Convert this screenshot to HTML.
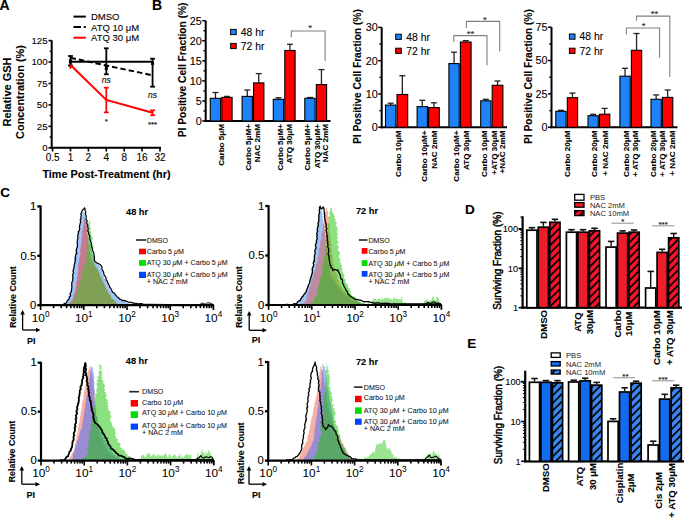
<!DOCTYPE html>
<html><head><meta charset="utf-8"><style>
html,body{margin:0;padding:0;background:#fff;}
body{width:685px;height:518px;overflow:hidden;}
svg{display:block;font-family:"Liberation Sans", sans-serif;}
text{stroke:currentColor;stroke-width:0.1px;}
</style></head><body>
<svg width="685" height="518" viewBox="0 0 685 518">
<defs>
<pattern id="hr" patternUnits="userSpaceOnUse" width="5.4" height="5.4" patternTransform="rotate(45)"><rect width="5.4" height="5.4" fill="#f5142a"/><rect x="0" y="0" width="1.7" height="5.4" fill="#000"/></pattern>
<pattern id="hb" patternUnits="userSpaceOnUse" width="5.4" height="5.4" patternTransform="rotate(45)"><rect width="5.4" height="5.4" fill="#3a86ee"/><rect x="0" y="0" width="1.7" height="5.4" fill="#000"/></pattern>
</defs>
<rect width="685" height="518" fill="#fff"/>
<text x="-0.5" y="9.8" font-size="14" text-anchor="start" fill="#000" font-weight="bold">A</text>
<text x="152" y="9.9" font-size="14" text-anchor="start" fill="#000" font-weight="bold">B</text>
<text x="0.3" y="196.8" font-size="13.5" text-anchor="start" fill="#000" font-weight="bold">C</text>
<text x="465" y="213.8" font-size="13.5" text-anchor="start" fill="#000" font-weight="bold">D</text>
<text x="467.3" y="347.6" font-size="13.5" text-anchor="start" fill="#000" font-weight="bold">E</text>
<line x1="73.5" y1="16.6" x2="85.8" y2="16.6" stroke="#000" stroke-width="2"/>
<path d="M73.5,27.1 H81 M83.8,27.1 H85.8" fill="none" stroke="#000" stroke-width="2"/>
<line x1="73.5" y1="37.7" x2="85.8" y2="37.7" stroke="#f00" stroke-width="2"/>
<text x="91" y="20.1" font-size="9.5" text-anchor="start" fill="#000">DMSO</text>
<text x="91" y="30.6" font-size="9.5" text-anchor="start" fill="#000">ATQ 10 μM</text>
<text x="91" y="41.2" font-size="9.5" text-anchor="start" fill="#000">ATQ 30 μM</text>
<line x1="51.7" y1="40.3" x2="51.7" y2="149" stroke="#000" stroke-width="2"/>
<line x1="48.5" y1="147.8" x2="51.7" y2="147.8" stroke="#000" stroke-width="1.6"/>
<text x="47.6" y="151.2" font-size="9.7" text-anchor="end" fill="#000">0</text>
<line x1="48.5" y1="126.36" x2="51.7" y2="126.36" stroke="#000" stroke-width="1.6"/>
<text x="47.6" y="129.76" font-size="9.7" text-anchor="end" fill="#000">25</text>
<line x1="48.5" y1="104.92" x2="51.7" y2="104.92" stroke="#000" stroke-width="1.6"/>
<text x="47.6" y="108.32" font-size="9.7" text-anchor="end" fill="#000">50</text>
<line x1="48.5" y1="83.48" x2="51.7" y2="83.48" stroke="#000" stroke-width="1.6"/>
<text x="47.6" y="86.88" font-size="9.7" text-anchor="end" fill="#000">75</text>
<line x1="48.5" y1="62.04" x2="51.7" y2="62.04" stroke="#000" stroke-width="1.6"/>
<text x="47.6" y="65.44" font-size="9.7" text-anchor="end" fill="#000">100</text>
<line x1="48.5" y1="40.6" x2="51.7" y2="40.6" stroke="#000" stroke-width="1.6"/>
<text x="47.6" y="44" font-size="9.7" text-anchor="end" fill="#000">125</text>
<line x1="49.7" y1="137.08" x2="51.7" y2="137.08" stroke="#000" stroke-width="1.5"/>
<line x1="49.7" y1="115.64" x2="51.7" y2="115.64" stroke="#000" stroke-width="1.5"/>
<line x1="49.7" y1="94.2" x2="51.7" y2="94.2" stroke="#000" stroke-width="1.5"/>
<line x1="49.7" y1="72.76" x2="51.7" y2="72.76" stroke="#000" stroke-width="1.5"/>
<line x1="49.7" y1="51.32" x2="51.7" y2="51.32" stroke="#000" stroke-width="1.5"/>
<line x1="50.7" y1="147.8" x2="161" y2="147.8" stroke="#000" stroke-width="2"/>
<line x1="52.6" y1="147.8" x2="52.6" y2="151.5" stroke="#000" stroke-width="1.6"/>
<text x="52.6" y="160.8" font-size="10" text-anchor="middle" fill="#000">0.5</text>
<line x1="70.5" y1="147.8" x2="70.5" y2="151.5" stroke="#000" stroke-width="1.6"/>
<text x="70.5" y="160.8" font-size="10" text-anchor="middle" fill="#000">1</text>
<line x1="88.4" y1="147.8" x2="88.4" y2="151.5" stroke="#000" stroke-width="1.6"/>
<text x="88.4" y="160.8" font-size="10" text-anchor="middle" fill="#000">2</text>
<line x1="106.3" y1="147.8" x2="106.3" y2="151.5" stroke="#000" stroke-width="1.6"/>
<text x="106.3" y="160.8" font-size="10" text-anchor="middle" fill="#000">4</text>
<line x1="124.2" y1="147.8" x2="124.2" y2="151.5" stroke="#000" stroke-width="1.6"/>
<text x="124.2" y="160.8" font-size="10" text-anchor="middle" fill="#000">8</text>
<line x1="142.1" y1="147.8" x2="142.1" y2="151.5" stroke="#000" stroke-width="1.6"/>
<text x="142.1" y="160.8" font-size="10" text-anchor="middle" fill="#000">16</text>
<line x1="160" y1="147.8" x2="160" y2="151.5" stroke="#000" stroke-width="1.6"/>
<text x="160" y="160.8" font-size="10" text-anchor="middle" fill="#000">32</text>
<text x="106.5" y="178.4" font-size="10.85" text-anchor="middle" fill="#000" font-weight="bold">Time Post-Treatment (hr)</text>
<text transform="translate(10.86,92) rotate(-90)" font-size="11" text-anchor="middle" fill="#000" font-weight="bold">Relative GSH</text>
<text transform="translate(24.22,92) rotate(-90)" font-size="10.9" text-anchor="middle" fill="#000" font-weight="bold">Concentration (%)</text>
<line x1="70.5" y1="61.7" x2="152.57" y2="61.7" stroke="#000" stroke-width="2"/>
<line x1="70.5" y1="56" x2="70.5" y2="65.5" stroke="#000" stroke-width="1.8"/>
<line x1="68.1" y1="56" x2="72.9" y2="56" stroke="#000" stroke-width="1.8"/>
<line x1="68.1" y1="65.5" x2="72.9" y2="65.5" stroke="#000" stroke-width="1.8"/>
<line x1="106.3" y1="48.3" x2="106.3" y2="74.3" stroke="#000" stroke-width="1.8"/>
<line x1="103.9" y1="48.3" x2="108.7" y2="48.3" stroke="#000" stroke-width="1.8"/>
<line x1="103.9" y1="74.3" x2="108.7" y2="74.3" stroke="#000" stroke-width="1.8"/>
<line x1="152.57" y1="58.7" x2="152.57" y2="86.7" stroke="#000" stroke-width="1.8"/>
<line x1="150.17" y1="58.7" x2="154.97" y2="58.7" stroke="#000" stroke-width="1.8"/>
<line x1="150.17" y1="86.7" x2="154.97" y2="86.7" stroke="#000" stroke-width="1.8"/>
<rect x="151.07" y="61.5" width="3" height="3.5" fill="#000" stroke="none" stroke-width="0"/>
<path d="M70.5,57.8 L106.3,65.5 L152.57,75.3" fill="none" stroke="#000" stroke-width="2" stroke-dasharray="5.5 3"/>
<path d="M70.5,65 L106.3,99.9 L152.57,112.8" fill="none" stroke="#f00" stroke-width="2"/>
<line x1="106.3" y1="87.7" x2="106.3" y2="112.4" stroke="#f00" stroke-width="1.7"/>
<line x1="103.9" y1="87.7" x2="108.7" y2="87.7" stroke="#f00" stroke-width="1.7"/>
<line x1="103.9" y1="112.4" x2="108.7" y2="112.4" stroke="#f00" stroke-width="1.7"/>
<line x1="152.57" y1="110.3" x2="152.57" y2="115.3" stroke="#f00" stroke-width="1.7"/>
<line x1="150.17" y1="110.3" x2="154.97" y2="110.3" stroke="#f00" stroke-width="1.7"/>
<line x1="150.17" y1="115.3" x2="154.97" y2="115.3" stroke="#f00" stroke-width="1.7"/>
<path d="M68.6,66.3 L72.4,66.3 L70.5,69.6 Z" fill="#f00" stroke="none" stroke-width="1"/>
<rect x="68.9" y="59.5" width="3.2" height="4" fill="#000" stroke="none" stroke-width="0"/>
<rect x="104.8" y="66" width="3" height="4" fill="#000" stroke="none" stroke-width="0"/>
<text x="106.3" y="83.2" font-size="8.5" text-anchor="middle" fill="#000" font-style="italic">ns</text>
<text x="152.57" y="98" font-size="8.5" text-anchor="middle" fill="#000" font-style="italic">ns</text>
<text x="106.3" y="123.6" font-size="8" text-anchor="middle" fill="#333">*</text>
<text x="152.57" y="126.8" font-size="8" text-anchor="middle" fill="#000">***</text>
<line x1="205.7" y1="20.7" x2="205.7" y2="122" stroke="#000" stroke-width="2"/>
<line x1="204.7" y1="121" x2="330.5" y2="121" stroke="#000" stroke-width="2"/>
<line x1="202.2" y1="121" x2="205.7" y2="121" stroke="#000" stroke-width="1.5"/>
<text x="201.7" y="124.9" font-size="10.8" text-anchor="end" fill="#000">0</text>
<line x1="202.2" y1="100.94" x2="205.7" y2="100.94" stroke="#000" stroke-width="1.5"/>
<text x="201.7" y="104.84" font-size="10.8" text-anchor="end" fill="#000">5</text>
<line x1="202.2" y1="80.88" x2="205.7" y2="80.88" stroke="#000" stroke-width="1.5"/>
<text x="201.7" y="84.78" font-size="10.8" text-anchor="end" fill="#000">10</text>
<line x1="202.2" y1="60.82" x2="205.7" y2="60.82" stroke="#000" stroke-width="1.5"/>
<text x="201.7" y="64.72" font-size="10.8" text-anchor="end" fill="#000">15</text>
<line x1="202.2" y1="40.76" x2="205.7" y2="40.76" stroke="#000" stroke-width="1.5"/>
<text x="201.7" y="44.66" font-size="10.8" text-anchor="end" fill="#000">20</text>
<line x1="202.2" y1="20.7" x2="205.7" y2="20.7" stroke="#000" stroke-width="1.5"/>
<text x="201.7" y="24.6" font-size="10.8" text-anchor="end" fill="#000">25</text>
<line x1="203.5" y1="110.97" x2="205.7" y2="110.97" stroke="#000" stroke-width="1.5"/>
<line x1="203.5" y1="90.91" x2="205.7" y2="90.91" stroke="#000" stroke-width="1.5"/>
<line x1="203.5" y1="70.85" x2="205.7" y2="70.85" stroke="#000" stroke-width="1.5"/>
<line x1="203.5" y1="50.79" x2="205.7" y2="50.79" stroke="#000" stroke-width="1.5"/>
<line x1="203.5" y1="30.73" x2="205.7" y2="30.73" stroke="#000" stroke-width="1.5"/>
<line x1="215.45" y1="98.3" x2="215.45" y2="92.5" stroke="#222" stroke-width="1.3"/>
<line x1="212.45" y1="92.5" x2="218.45" y2="92.5" stroke="#222" stroke-width="1.3"/>
<rect x="210.3" y="98.3" width="10.3" height="22.7" fill="#1f82f8" stroke="#000" stroke-width="1.1"/>
<line x1="226.95" y1="97.4" x2="226.95" y2="96.4" stroke="#222" stroke-width="1.3"/>
<line x1="223.95" y1="96.4" x2="229.95" y2="96.4" stroke="#222" stroke-width="1.3"/>
<rect x="221.8" y="97.4" width="10.3" height="23.6" fill="#ff0000" stroke="#000" stroke-width="1.1"/>
<line x1="247.25" y1="96.4" x2="247.25" y2="90" stroke="#222" stroke-width="1.3"/>
<line x1="244.25" y1="90" x2="250.25" y2="90" stroke="#222" stroke-width="1.3"/>
<rect x="242.1" y="96.4" width="10.3" height="24.6" fill="#1f82f8" stroke="#000" stroke-width="1.1"/>
<line x1="258.75" y1="82.9" x2="258.75" y2="73.6" stroke="#222" stroke-width="1.3"/>
<line x1="255.75" y1="73.6" x2="261.75" y2="73.6" stroke="#222" stroke-width="1.3"/>
<rect x="253.6" y="82.9" width="10.3" height="38.1" fill="#ff0000" stroke="#000" stroke-width="1.1"/>
<line x1="278.45" y1="99.3" x2="278.45" y2="97.8" stroke="#222" stroke-width="1.3"/>
<line x1="275.45" y1="97.8" x2="281.45" y2="97.8" stroke="#222" stroke-width="1.3"/>
<rect x="273.3" y="99.3" width="10.3" height="21.7" fill="#1f82f8" stroke="#000" stroke-width="1.1"/>
<line x1="289.95" y1="50.5" x2="289.95" y2="44.3" stroke="#222" stroke-width="1.3"/>
<line x1="286.95" y1="44.3" x2="292.95" y2="44.3" stroke="#222" stroke-width="1.3"/>
<rect x="284.8" y="50.5" width="10.3" height="70.5" fill="#ff0000" stroke="#000" stroke-width="1.1"/>
<line x1="309.95" y1="98.3" x2="309.95" y2="97.5" stroke="#222" stroke-width="1.3"/>
<line x1="306.95" y1="97.5" x2="312.95" y2="97.5" stroke="#222" stroke-width="1.3"/>
<rect x="304.8" y="98.3" width="10.3" height="22.7" fill="#1f82f8" stroke="#000" stroke-width="1.1"/>
<line x1="321.45" y1="84.6" x2="321.45" y2="69.6" stroke="#222" stroke-width="1.3"/>
<line x1="318.45" y1="69.6" x2="324.45" y2="69.6" stroke="#222" stroke-width="1.3"/>
<rect x="316.3" y="84.6" width="10.3" height="36.4" fill="#ff0000" stroke="#000" stroke-width="1.1"/>
<rect x="230.6" y="29.4" width="5.6" height="5.2" fill="#1f82f8" stroke="#000" stroke-width="1"/>
<rect x="230.6" y="43.4" width="5.6" height="5.2" fill="#ff0000" stroke="#000" stroke-width="1"/>
<text x="240.7" y="35.8" font-size="10.4" text-anchor="start" fill="#000">48 hr</text>
<text x="240.7" y="49.8" font-size="10.4" text-anchor="start" fill="#000">72 hr</text>
<text transform="translate(224.32,124) rotate(-90)" font-size="8.1" text-anchor="end" fill="#000" font-weight="bold">Carbo 5μM</text>
<text transform="translate(251.32,124) rotate(-90)" font-size="8.1" text-anchor="end" fill="#000" font-weight="bold">Carbo 5μM+</text>
<text transform="translate(259.92,124) rotate(-90)" font-size="8.1" text-anchor="end" fill="#000" font-weight="bold">NAC 2mM</text>
<text transform="translate(282.92,124) rotate(-90)" font-size="8.1" text-anchor="end" fill="#000" font-weight="bold">Carbo 5μM+</text>
<text transform="translate(291.82,124) rotate(-90)" font-size="8.1" text-anchor="end" fill="#000" font-weight="bold">ATQ 30μM</text>
<text transform="translate(310.12,124) rotate(-90)" font-size="8.1" text-anchor="end" fill="#000" font-weight="bold">Carbo 5μM+</text>
<text transform="translate(319.82,124) rotate(-90)" font-size="8.1" text-anchor="end" fill="#000" font-weight="bold">ATQ 30μM+</text>
<text transform="translate(328.42,124) rotate(-90)" font-size="8.1" text-anchor="end" fill="#000" font-weight="bold">NAC 2mM</text>
<path d="M291.3,37.3 V31 H325.1 V61" fill="none" stroke="#808080" stroke-width="1.1"/>
<text x="310" y="30.5" font-size="9.5" text-anchor="middle" fill="#333">*</text>
<text transform="translate(185.67,69.9) rotate(-90)" font-size="10.2" text-anchor="middle" fill="#000" font-weight="bold">PI Positive Cell Fraction (%)</text>
<line x1="381.7" y1="27.4" x2="381.7" y2="128.3" stroke="#000" stroke-width="2"/>
<line x1="380.7" y1="127.3" x2="507" y2="127.3" stroke="#000" stroke-width="2"/>
<line x1="378.2" y1="127.3" x2="381.7" y2="127.3" stroke="#000" stroke-width="1.5"/>
<text x="377.7" y="131.2" font-size="10.8" text-anchor="end" fill="#000">0</text>
<line x1="378.2" y1="94" x2="381.7" y2="94" stroke="#000" stroke-width="1.5"/>
<text x="377.7" y="97.9" font-size="10.8" text-anchor="end" fill="#000">10</text>
<line x1="378.2" y1="60.7" x2="381.7" y2="60.7" stroke="#000" stroke-width="1.5"/>
<text x="377.7" y="64.6" font-size="10.8" text-anchor="end" fill="#000">20</text>
<line x1="378.2" y1="27.4" x2="381.7" y2="27.4" stroke="#000" stroke-width="1.5"/>
<text x="377.7" y="31.3" font-size="10.8" text-anchor="end" fill="#000">30</text>
<line x1="379.5" y1="110.65" x2="381.7" y2="110.65" stroke="#000" stroke-width="1.5"/>
<line x1="379.5" y1="77.35" x2="381.7" y2="77.35" stroke="#000" stroke-width="1.5"/>
<line x1="379.5" y1="44.05" x2="381.7" y2="44.05" stroke="#000" stroke-width="1.5"/>
<line x1="390.65" y1="105.1" x2="390.65" y2="103.2" stroke="#222" stroke-width="1.3"/>
<line x1="387.65" y1="103.2" x2="393.65" y2="103.2" stroke="#222" stroke-width="1.3"/>
<rect x="385.5" y="105.1" width="10.3" height="22.2" fill="#1f82f8" stroke="#000" stroke-width="1.1"/>
<line x1="402.35" y1="94.5" x2="402.35" y2="75.7" stroke="#222" stroke-width="1.3"/>
<line x1="399.35" y1="75.7" x2="405.35" y2="75.7" stroke="#222" stroke-width="1.3"/>
<rect x="397" y="94.5" width="10.7" height="32.8" fill="#ff0000" stroke="#000" stroke-width="1.1"/>
<line x1="422.25" y1="106.6" x2="422.25" y2="100.3" stroke="#222" stroke-width="1.3"/>
<line x1="419.25" y1="100.3" x2="425.25" y2="100.3" stroke="#222" stroke-width="1.3"/>
<rect x="417.1" y="106.6" width="10.3" height="20.7" fill="#1f82f8" stroke="#000" stroke-width="1.1"/>
<line x1="433.95" y1="107.6" x2="433.95" y2="102.8" stroke="#222" stroke-width="1.3"/>
<line x1="430.95" y1="102.8" x2="436.95" y2="102.8" stroke="#222" stroke-width="1.3"/>
<rect x="428.6" y="107.6" width="10.7" height="19.7" fill="#ff0000" stroke="#000" stroke-width="1.1"/>
<line x1="454.05" y1="63.6" x2="454.05" y2="52.2" stroke="#222" stroke-width="1.3"/>
<line x1="451.05" y1="52.2" x2="457.05" y2="52.2" stroke="#222" stroke-width="1.3"/>
<rect x="448.9" y="63.6" width="10.3" height="63.7" fill="#1f82f8" stroke="#000" stroke-width="1.1"/>
<line x1="465.75" y1="42" x2="465.75" y2="40.6" stroke="#222" stroke-width="1.3"/>
<line x1="462.75" y1="40.6" x2="468.75" y2="40.6" stroke="#222" stroke-width="1.3"/>
<rect x="460.4" y="42" width="10.7" height="85.3" fill="#ff0000" stroke="#000" stroke-width="1.1"/>
<line x1="485.85" y1="100.8" x2="485.85" y2="99.3" stroke="#222" stroke-width="1.3"/>
<line x1="482.85" y1="99.3" x2="488.85" y2="99.3" stroke="#222" stroke-width="1.3"/>
<rect x="480.7" y="100.8" width="10.3" height="26.5" fill="#1f82f8" stroke="#000" stroke-width="1.1"/>
<line x1="497.55" y1="85.3" x2="497.55" y2="81" stroke="#222" stroke-width="1.3"/>
<line x1="494.55" y1="81" x2="500.55" y2="81" stroke="#222" stroke-width="1.3"/>
<rect x="492.2" y="85.3" width="10.7" height="42" fill="#ff0000" stroke="#000" stroke-width="1.1"/>
<rect x="395.7" y="34.2" width="5.6" height="5.2" fill="#1f82f8" stroke="#000" stroke-width="1"/>
<rect x="395.7" y="48.2" width="5.6" height="5.2" fill="#ff0000" stroke="#000" stroke-width="1"/>
<text x="406.2" y="40.6" font-size="10.4" text-anchor="start" fill="#000">48 hr</text>
<text x="406.2" y="54.6" font-size="10.4" text-anchor="start" fill="#000">72 hr</text>
<text transform="translate(400.82,130.6) rotate(-90)" font-size="8.1" text-anchor="end" fill="#000" font-weight="bold">Carbo 10μM</text>
<text transform="translate(426.92,130.6) rotate(-90)" font-size="8.1" text-anchor="end" fill="#000" font-weight="bold">Carbo 10μM+</text>
<text transform="translate(436.52,130.6) rotate(-90)" font-size="8.1" text-anchor="end" fill="#000" font-weight="bold">NAC 2mM</text>
<text transform="translate(458.62,130.6) rotate(-90)" font-size="8.1" text-anchor="end" fill="#000" font-weight="bold">Carbo 10μM+</text>
<text transform="translate(469.22,130.6) rotate(-90)" font-size="8.1" text-anchor="end" fill="#000" font-weight="bold">ATQ 30μM</text>
<text transform="translate(486.62,130.6) rotate(-90)" font-size="8.1" text-anchor="end" fill="#000" font-weight="bold">Carbo 10μM</text>
<text transform="translate(497.22,130.6) rotate(-90)" font-size="8.1" text-anchor="end" fill="#000" font-weight="bold">+ATQ 30μM</text>
<text transform="translate(504.92,130.6) rotate(-90)" font-size="8.1" text-anchor="end" fill="#000" font-weight="bold">+NAC 2mM</text>
<path d="M453.8,42 V35.6 H487 V65.2" fill="none" stroke="#808080" stroke-width="1.1"/>
<text x="470.5" y="37.2" font-size="9.5" text-anchor="middle" fill="#333">**</text>
<path d="M466.4,28 V21.4 H499.7 V51.2" fill="none" stroke="#808080" stroke-width="1.1"/>
<text x="484.8" y="23.2" font-size="9.5" text-anchor="middle" fill="#333">*</text>
<text transform="translate(361.17,76.6) rotate(-90)" font-size="10.2" text-anchor="middle" fill="#000" font-weight="bold">PI Positive Cell Fraction (%)</text>
<line x1="551.5" y1="27.2" x2="551.5" y2="128.3" stroke="#000" stroke-width="2"/>
<line x1="550.5" y1="127.3" x2="677.5" y2="127.3" stroke="#000" stroke-width="2"/>
<line x1="548" y1="127.3" x2="551.5" y2="127.3" stroke="#000" stroke-width="1.5"/>
<text x="547.5" y="131.2" font-size="10.8" text-anchor="end" fill="#000">0</text>
<line x1="548" y1="93.93" x2="551.5" y2="93.93" stroke="#000" stroke-width="1.5"/>
<text x="547.5" y="97.83" font-size="10.8" text-anchor="end" fill="#000">25</text>
<line x1="548" y1="60.57" x2="551.5" y2="60.57" stroke="#000" stroke-width="1.5"/>
<text x="547.5" y="64.47" font-size="10.8" text-anchor="end" fill="#000">50</text>
<line x1="548" y1="27.2" x2="551.5" y2="27.2" stroke="#000" stroke-width="1.5"/>
<text x="547.5" y="31.1" font-size="10.8" text-anchor="end" fill="#000">75</text>
<line x1="549.3" y1="110.62" x2="551.5" y2="110.62" stroke="#000" stroke-width="1.5"/>
<line x1="549.3" y1="77.25" x2="551.5" y2="77.25" stroke="#000" stroke-width="1.5"/>
<line x1="549.3" y1="43.88" x2="551.5" y2="43.88" stroke="#000" stroke-width="1.5"/>
<line x1="560.95" y1="111.3" x2="560.95" y2="110.3" stroke="#222" stroke-width="1.3"/>
<line x1="557.95" y1="110.3" x2="563.95" y2="110.3" stroke="#222" stroke-width="1.3"/>
<rect x="555.8" y="111.3" width="10.3" height="16" fill="#1f82f8" stroke="#000" stroke-width="1.1"/>
<line x1="572.45" y1="97.7" x2="572.45" y2="93.1" stroke="#222" stroke-width="1.3"/>
<line x1="569.45" y1="93.1" x2="575.45" y2="93.1" stroke="#222" stroke-width="1.3"/>
<rect x="567.3" y="97.7" width="10.3" height="29.6" fill="#ff0000" stroke="#000" stroke-width="1.1"/>
<line x1="593.15" y1="115.7" x2="593.15" y2="114.3" stroke="#222" stroke-width="1.3"/>
<line x1="590.15" y1="114.3" x2="596.15" y2="114.3" stroke="#222" stroke-width="1.3"/>
<rect x="588" y="115.7" width="10.3" height="11.6" fill="#1f82f8" stroke="#000" stroke-width="1.1"/>
<line x1="604.65" y1="114.2" x2="604.65" y2="108.4" stroke="#222" stroke-width="1.3"/>
<line x1="601.65" y1="108.4" x2="607.65" y2="108.4" stroke="#222" stroke-width="1.3"/>
<rect x="599.5" y="114.2" width="10.3" height="13.1" fill="#ff0000" stroke="#000" stroke-width="1.1"/>
<line x1="625.05" y1="76.2" x2="625.05" y2="68.3" stroke="#222" stroke-width="1.3"/>
<line x1="622.05" y1="68.3" x2="628.05" y2="68.3" stroke="#222" stroke-width="1.3"/>
<rect x="619.9" y="76.2" width="10.3" height="51.1" fill="#1f82f8" stroke="#000" stroke-width="1.1"/>
<line x1="636.55" y1="50.3" x2="636.55" y2="33.5" stroke="#222" stroke-width="1.3"/>
<line x1="633.55" y1="33.5" x2="639.55" y2="33.5" stroke="#222" stroke-width="1.3"/>
<rect x="631.4" y="50.3" width="10.3" height="77" fill="#ff0000" stroke="#000" stroke-width="1.1"/>
<line x1="656.15" y1="99.3" x2="656.15" y2="94.9" stroke="#222" stroke-width="1.3"/>
<line x1="653.15" y1="94.9" x2="659.15" y2="94.9" stroke="#222" stroke-width="1.3"/>
<rect x="651" y="99.3" width="10.3" height="28" fill="#1f82f8" stroke="#000" stroke-width="1.1"/>
<line x1="667.65" y1="97.4" x2="667.65" y2="90" stroke="#222" stroke-width="1.3"/>
<line x1="664.65" y1="90" x2="670.65" y2="90" stroke="#222" stroke-width="1.3"/>
<rect x="662.5" y="97.4" width="10.3" height="29.9" fill="#ff0000" stroke="#000" stroke-width="1.1"/>
<rect x="569.4" y="34" width="5.6" height="5.2" fill="#1f82f8" stroke="#000" stroke-width="1"/>
<rect x="569.4" y="48.2" width="5.6" height="5.2" fill="#ff0000" stroke="#000" stroke-width="1"/>
<text x="579.6" y="40.4" font-size="10.4" text-anchor="start" fill="#000">48 hr</text>
<text x="579.6" y="54.6" font-size="10.4" text-anchor="start" fill="#000">72 hr</text>
<text transform="translate(570.22,130.6) rotate(-90)" font-size="8.1" text-anchor="end" fill="#000" font-weight="bold">Carbo 20μM</text>
<text transform="translate(597.22,130.6) rotate(-90)" font-size="8.1" text-anchor="end" fill="#000" font-weight="bold">Carbo 20μM</text>
<text transform="translate(607.92,130.6) rotate(-90)" font-size="8.1" text-anchor="end" fill="#000" font-weight="bold">+ NAC 2mM</text>
<text transform="translate(628.72,130.6) rotate(-90)" font-size="8.1" text-anchor="end" fill="#000" font-weight="bold">Carbo 20μM</text>
<text transform="translate(638.32,130.6) rotate(-90)" font-size="8.1" text-anchor="end" fill="#000" font-weight="bold">+ ATQ 30μM</text>
<text transform="translate(655.72,130.6) rotate(-90)" font-size="8.1" text-anchor="end" fill="#000" font-weight="bold">Carbo 20μM</text>
<text transform="translate(665.42,130.6) rotate(-90)" font-size="8.1" text-anchor="end" fill="#000" font-weight="bold">+ ATQ 30μM</text>
<text transform="translate(675.02,130.6) rotate(-90)" font-size="8.1" text-anchor="end" fill="#000" font-weight="bold">+ NAC 2mM</text>
<path d="M626.3,34.5 V28 H659.6 V57.8" fill="none" stroke="#808080" stroke-width="1.1"/>
<text x="643.5" y="29.3" font-size="9.5" text-anchor="middle" fill="#333">*</text>
<path d="M636.5,20.7 V16.1 H669.8 V77" fill="none" stroke="#808080" stroke-width="1.1"/>
<text x="654.4" y="17.1" font-size="9.5" text-anchor="middle" fill="#333">**</text>
<text transform="translate(532.27,76.6) rotate(-90)" font-size="10.2" text-anchor="middle" fill="#000" font-weight="bold">PI Positive Cell Fraction (%)</text>
<path d="M64.5,305.2 L64.5,305.2 L64.94,303.87 L65.87,302.82 L66.39,301.54 L67.26,300.45 L67.94,299.26 L68.08,297.9 L68.3,296.71 L69.37,295.71 L69.08,294.4 L69.33,293.21 L70.35,292.2 L70.11,290.9 L70.74,289.8 L70.66,288.54 L71.09,287.39 L70.89,286.1 L71.63,285.01 L72,283.81 L71.8,282.55 L72.15,281.34 L72.22,280.11 L71.75,278.82 L72.57,277.66 L72.55,276.42 L72.39,275.16 L72.26,273.9 L73.23,272.77 L72.97,271.5 L73.35,270.3 L73.65,269.09 L73.62,267.84 L73.96,266.64 L73.58,265.35 L74.12,264.17 L73.9,262.9 L74.52,261.73 L74.6,260.5 L73.96,259.18 L74.14,257.95 L74.39,256.76 L75.29,255.66 L74.94,254.39 L75.29,253.22 L75.14,251.97 L75.51,250.8 L75.55,249.58 L75.69,248.38 L76.08,247.21 L76.25,246.01 L76.73,244.86 L76.68,243.63 L77.09,242.46 L77.19,241.25 L77.48,240.08 L77.37,238.83 L77.07,237.54 L77.96,236.46 L78.26,235.28 L78.4,234.07 L78.27,232.81 L78.61,231.64 L78.32,230.35 L79.13,229.25 L79.07,228.01 L78.99,226.76 L78.97,225.53 L79.95,224.46 L80.28,223.28 L79.61,221.88 L80.66,220.84 L80.66,219.47 L80.79,218.15 L81.3,216.94 L82.13,215.83 L82.61,214.61 L82.19,213.12 L82.94,212.1 L84.94,212.9 L84.57,214.33 L85.24,215.53 L84.99,216.94 L85.17,218.25 L85.92,219.43 L85.73,220.82 L86.69,221.97 L87.09,223.14 L86.73,224.41 L87.46,225.54 L87.47,226.76 L87.42,227.99 L87.39,229.22 L88.01,230.35 L88.29,231.54 L87.64,232.85 L88.35,233.97 L87.88,235.26 L88.11,236.45 L88.79,237.58 L88.87,238.79 L88.98,240 L89.16,241.23 L89.51,242.42 L89.84,243.61 L90.08,244.83 L90.07,246.11 L90.79,247.2 L91.17,248.38 L91.19,249.65 L91.95,250.74 L92.19,251.94 L91.92,253.39 L92.73,254.51 L93.08,255.76 L93.97,256.86 L93.96,258.23 L94.17,259.52 L95.08,260.61 L94.93,262.09 L95.92,262.9 L97.27,263.26 L97.92,264.5 L99.02,265.17 L99.83,266.06 L100.58,267.17 L100.69,268.52 L101.11,269.75 L102.23,270.73 L102.64,271.96 L102.5,273.39 L102.68,274.71 L103.79,275.69 L104.04,276.98 L104.46,278.13 L105.25,279.1 L105.76,280.21 L106.35,281.28 L106.84,282.4 L107.19,283.59 L108,284.55 L108.47,285.67 L108.67,286.94 L109.88,287.7 L109.95,289.04 L110.62,290.15 L111.75,290.88 L112.62,291.83 L112.96,293.19 L114.2,293.84 L115.04,294.8 L115.65,295.96 L116.25,297.12 L117.51,297.75 L118.07,298.83 L119.31,299.35 L120.38,300.31 L121.77,300.44 L122.87,301.33 L124.37,301.19 L125.56,301.85 L126.69,302.64 L127.9,303.37 L129.35,303.32 L130.74,303.47 L132.1,303.73 L133.33,304.5 L134.75,304.54 L136,305.2 L136,305.2 Z" fill="rgb(65,135,235)" fill-opacity="0.5"/>
<path d="M67.8,305.2 L67.8,305.2 L68.88,304.35 L69.74,303.33 L70.07,301.88 L70.99,300.9 L72.29,300.11 L72.6,298.76 L73.23,297.53 L73.27,296.09 L73.54,294.73 L74.16,293.5 L75.1,292.39 L75.07,290.97 L75.31,289.75 L75.54,288.52 L75.7,287.28 L75.85,286.05 L76.51,284.88 L75.91,283.54 L75.92,282.29 L77.01,281.17 L77.11,279.93 L77.37,278.71 L76.98,277.4 L77.65,276.23 L77.79,275 L77.25,273.67 L77.93,272.5 L78.18,271.28 L78.16,270.02 L78.17,268.73 L78.1,267.44 L78.3,266.17 L78.34,264.89 L78.34,263.6 L79.01,262.4 L78.87,261.09 L79.54,259.88 L78.93,258.52 L79.94,257.36 L79.88,256.06 L80.27,254.82 L80.39,253.54 L80.53,252.31 L80.34,251.03 L79.91,249.74 L80.77,248.58 L80.33,247.28 L80.59,246.06 L81.08,244.86 L81.08,243.61 L81.1,242.36 L81.75,241.18 L81.56,239.91 L81.42,238.64 L81.46,237.39 L82.2,236.22 L81.95,234.94 L82.39,233.74 L82.09,232.46 L82.07,231.2 L82.53,230.01 L83.01,228.83 L82.58,227.51 L83.39,226.39 L83.72,225.19 L83.8,223.95 L84.02,222.73 L83.41,221.38 L84.23,220.26 L84.66,219.08 L84.93,217.68 L85.05,218.94 L85.39,220.14 L85.47,221.41 L85.91,222.58 L86.19,223.79 L86.22,225.03 L87.12,226.2 L87.19,227.46 L87.25,228.71 L87.37,229.96 L87.55,231.21 L86.78,232.55 L87.02,233.79 L87.91,234.96 L87.62,236.25 L87.93,237.48 L88.06,238.73 L88.15,239.98 L88.02,241.27 L88.25,242.51 L88.64,243.73 L88.97,244.96 L89,246.23 L89.37,247.45 L89.11,248.76 L89.12,250.03 L89.62,251.23 L90.08,252.44 L90.15,253.71 L90.12,254.96 L90.33,256.32 L90.59,257.66 L91.4,258.82 L91.43,260.24 L92.03,261.47 L92.64,262.69 L93.1,263.93 L93.72,265 L94.26,266.12 L95.21,266.95 L95.7,268.11 L96.6,268.98 L97.49,269.85 L97.97,271.01 L98.32,272.19 L99.39,273.05 L99.57,274.3 L100.07,275.41 L100.15,276.71 L100.6,277.85 L101.61,278.73 L101.64,280.05 L102.24,281.13 L103.27,282 L103.64,283.21 L104.5,284.16 L104.44,285.58 L105.13,286.63 L105.49,287.84 L106.13,288.91 L106.79,289.96 L107.3,291.11 L108.09,292.17 L109.13,293.09 L109.35,294.47 L110.5,295.33 L111.02,296.54 L111.12,297.99 L112.3,298.66 L113.27,299.58 L114.27,300.47 L114.75,301.94 L116.21,302.3 L117.32,303.07 L117.77,304.57 L119,305.2 L119,305.2 Z" fill="rgb(240,45,45)" fill-opacity="0.5"/>
<path d="M69.9,305.2 L69.9,305.2 L69.96,303.7 L71.82,303.27 L72.22,301.97 L73.16,300.99 L74.03,299.97 L74.1,298.48 L75.13,297.56 L74.57,295.68 L76.49,295.14 L76.35,293.83 L77.06,292.76 L76.28,291.26 L77.79,290.42 L78.46,289.34 L77.2,287.71 L78.01,286.66 L78.78,285.61 L79.6,284.57 L78.86,283.09 L79.08,281.88 L79.54,280.74 L80.55,279.75 L81.13,278.64 L80.81,277.28 L81.09,276.09 L81.48,274.92 L81.72,273.74 L82.13,272.51 L81.8,271.11 L82.86,270.03 L84.02,268.97 L83.27,267.48 L84.17,266.36 L83.37,264.86 L84.64,263.79 L85.05,262.53 L85.18,261.21 L85.17,259.86 L85.4,258.56 L85.98,257.34 L86.75,256.07 L85.45,254.71 L85.47,253.47 L86.82,252.35 L87.25,251.15 L86.61,249.85 L86.58,248.61 L87.22,247.42 L86.33,246.1 L86.6,244.88 L86.58,243.64 L87.43,242.48 L87.03,241.2 L86.99,239.97 L87.95,238.77 L88.53,237.56 L87.36,236.22 L88.22,235.03 L87.75,233.74 L88.67,232.54 L88.24,231.26 L87.73,229.97 L87.71,228.71 L87.43,227.44 L88.38,226.25 L88.28,224.96 L88.15,223.56 L88.76,222.31 L88.95,220.97 L90.05,219.82 L90.47,218.33 L89,219.78 L90.11,220.97 L90.01,222.29 L90.39,223.55 L89.83,224.91 L89.99,226.2 L90.63,227.43 L90.9,228.71 L90.59,230.06 L90.52,231.35 L91.56,232.47 L91.12,233.82 L90.89,235.13 L92,236.24 L92.63,237.42 L92.81,238.68 L92.09,240.03 L92.26,241.24 L91.81,242.49 L92.1,243.68 L93.35,244.81 L93.54,246.01 L93.49,247.23 L93.72,248.43 L92.83,249.71 L92.63,250.94 L92.64,252.16 L93.95,253.28 L92.88,254.58 L94.02,255.71 L93.9,256.94 L93.41,258.19 L94.72,259.31 L94.79,260.52 L93.48,261.84 L94.55,262.81 L95.07,264.04 L95.33,265.41 L95.81,266.66 L97.56,267.22 L97.64,268.68 L98.11,269.95 L98.5,271.16 L99.47,272.12 L99.28,273.56 L99.11,274.99 L100.58,275.75 L100.79,277.03 L102.01,277.89 L102.22,279.17 L102.02,280.64 L103.55,281.36 L102.82,283.2 L103.37,284.41 L105.34,284.91 L104.49,286.81 L106.04,287.52 L105.95,289.04 L106.58,290.25 L108.02,290.94 L108.08,292.46 L108.81,293.58 L109.24,294.87 L110.81,295.49 L110.7,297.11 L111.16,298.6 L112.4,299.12 L113.42,299.85 L114.85,300.2 L115.16,301.59 L116.19,302.31 L116.52,303.68 L117.41,304.53 L118.5,305.2 L118.5,305.2 Z" fill="rgb(56,200,25)" fill-opacity="0.5"/>
<path d="M62,305.2 L63.37,304.53 L64.5,303.43 L66.13,303.09 L66.9,301.88 L67.26,300.41 L68.7,299.63 L69.26,298.29 L69.5,296.91 L70.68,295.71 L70.16,294.11 L70.68,292.76 L71.42,291.45 L71.61,290.01 L71.69,288.76 L71.91,287.52 L71.83,286.25 L71.79,284.98 L71.77,283.71 L71.78,282.45 L72.61,281.27 L72.78,280.03 L72.67,278.75 L73.01,277.53 L72.72,276.23 L72.74,274.97 L73,273.74 L73.66,272.54 L72.87,271.2 L73.51,270 L73.43,268.77 L74.21,267.68 L73.96,266.42 L74.15,265.23 L74.43,264.05 L74.79,262.89 L75.24,261.75 L75,260.49 L75.74,259.39 L75.15,258.07 L75.53,256.91 L75.55,255.7 L75.77,254.51 L76.71,253.43 L76.76,252.18 L76.28,250.88 L76.4,249.63 L76.76,248.41 L77.23,247.19 L77.43,245.95 L77.47,244.7 L77.41,243.44 L77.03,242.14 L77.42,240.92 L77.31,239.66 L77.79,238.44 L77.95,237.2 L77.66,235.92 L77.83,234.65 L78.64,233.48 L78.07,232.04 L79.15,230.92 L79.48,229.66 L79.79,228.37 L79.34,227.08 L79.69,225.89 L79.88,224.69 L80.1,223.49 L80.64,222.34 L80.49,221.08 L80.23,219.82 L81.01,218.7 L80.76,217.43 L81.05,216.24 L81.35,215.06 L80.73,213.74 L81.73,212.65 L81.74,211.51 L82.56,210.19 L83.55,209.02 L84.54,207.79 L85.09,209.08 L84.98,210.49 L85.77,211.73 L85.53,213.17 L85.63,214.54 L86.1,215.85 L86.23,217.21 L85.97,218.55 L86.21,219.82 L87.21,220.99 L86.66,222.36 L87.02,223.62 L87.81,224.81 L87.64,226.14 L87.95,227.4 L88.29,228.66 L87.96,230.01 L87.83,231.28 L88.77,232.29 L88.48,233.6 L88.96,234.72 L89.85,235.74 L89.37,237.1 L89.93,238.19 L89.88,239.45 L90.39,240.56 L90.66,241.73 L91.38,242.79 L91.17,244.06 L91.29,245.43 L91.62,246.76 L92.34,248.02 L92.25,249.42 L92.8,250.71 L93.47,251.98 L93.79,253.3 L94.02,254.68 L94.16,256.07 L94.47,257.43 L94.37,258.87 L94.42,260.28 L94.88,261.64 L95.98,262.16 L96.88,263.01 L98.1,263.31 L99.52,264.21 L100.73,265.09 L101.52,266.23 L102.16,267.42 L101.82,268.92 L102.42,270.13 L103.2,271.27 L103.61,272.53 L103.86,273.85 L104.2,275.14 L105.1,276.19 L105.85,277.31 L106.16,278.61 L106.1,280.07 L107.27,281 L107.47,282.35 L108.26,283.45 L108.77,284.66 L109.32,285.83 L109.65,287.03 L110.44,287.99 L111.14,289 L111.62,290.12 L112.06,291.14 L112.71,292.29 L113.94,292.86 L114.87,293.73 L115.44,294.96 L116.37,295.83 L117.04,296.96 L118.45,297.35 L119.08,298.52 L119.93,299.39 L121.25,299.37 L122.15,300.72 L123.59,300.3 L124.83,300.54 L125.91,301.31 L127.21,301.35 L128.26,302.2 L129.55,302.27 L130.74,302.39 L132.05,302.45 L133.27,303.32 L134.63,302.96 L135.87,303.66 L137.2,303.44 L138.45,304.09 L139.82,303.54 L141.13,303.62 L142.43,303.77 L143.66,304.51 L145,304.3 L170,304.5 L213,304.5" fill="none" stroke="#000" stroke-width="1.2" stroke-linejoin="round"/>
<path d="M199,304.6 L200.31,304.13 L201.53,303.23 L202.82,303.16 L204.05,304 L205.37,304 L206.49,303.3 L207.82,302.81 L209.06,302.99 L210.3,303.2 L211.67,303.48 L213,304.6" fill="none" stroke="#000" stroke-width="1" stroke-linejoin="round"/>
<line x1="40.6" y1="205.6" x2="40.6" y2="306.2" stroke="#000" stroke-width="2.2"/>
<line x1="37.3" y1="206.4" x2="40.6" y2="206.4" stroke="#000" stroke-width="2.3"/>
<text x="36.3" y="210.1" font-size="11.3" text-anchor="end" fill="#000">1</text>
<line x1="37.3" y1="255.8" x2="40.6" y2="255.8" stroke="#000" stroke-width="2.3"/>
<text x="36.3" y="259.5" font-size="11.3" text-anchor="end" fill="#000">0.5</text>
<line x1="37.3" y1="305.2" x2="40.6" y2="305.2" stroke="#000" stroke-width="2.3"/>
<text x="36.3" y="308.9" font-size="11.3" text-anchor="end" fill="#000">0</text>
<line x1="39.6" y1="305.2" x2="213.9" y2="305.2" stroke="#000" stroke-width="2.2"/>
<line x1="40.6" y1="305.2" x2="40.6" y2="310" stroke="#000" stroke-width="1.6"/>
<line x1="53.6" y1="305.2" x2="53.6" y2="308.2" stroke="#000" stroke-width="1.6"/>
<line x1="61.21" y1="305.2" x2="61.21" y2="308.2" stroke="#000" stroke-width="1.6"/>
<line x1="66.61" y1="305.2" x2="66.61" y2="308.2" stroke="#000" stroke-width="1.6"/>
<line x1="70.8" y1="305.2" x2="70.8" y2="308.2" stroke="#000" stroke-width="1.6"/>
<line x1="74.22" y1="305.2" x2="74.22" y2="308.2" stroke="#000" stroke-width="1.6"/>
<line x1="77.11" y1="305.2" x2="77.11" y2="308.2" stroke="#000" stroke-width="1.6"/>
<line x1="79.61" y1="305.2" x2="79.61" y2="308.2" stroke="#000" stroke-width="1.6"/>
<line x1="81.82" y1="305.2" x2="81.82" y2="308.2" stroke="#000" stroke-width="1.6"/>
<line x1="83.8" y1="305.2" x2="83.8" y2="310" stroke="#000" stroke-width="1.6"/>
<line x1="96.8" y1="305.2" x2="96.8" y2="308.2" stroke="#000" stroke-width="1.6"/>
<line x1="104.41" y1="305.2" x2="104.41" y2="308.2" stroke="#000" stroke-width="1.6"/>
<line x1="109.81" y1="305.2" x2="109.81" y2="308.2" stroke="#000" stroke-width="1.6"/>
<line x1="114" y1="305.2" x2="114" y2="308.2" stroke="#000" stroke-width="1.6"/>
<line x1="117.42" y1="305.2" x2="117.42" y2="308.2" stroke="#000" stroke-width="1.6"/>
<line x1="120.31" y1="305.2" x2="120.31" y2="308.2" stroke="#000" stroke-width="1.6"/>
<line x1="122.81" y1="305.2" x2="122.81" y2="308.2" stroke="#000" stroke-width="1.6"/>
<line x1="125.02" y1="305.2" x2="125.02" y2="308.2" stroke="#000" stroke-width="1.6"/>
<line x1="127" y1="305.2" x2="127" y2="310" stroke="#000" stroke-width="1.6"/>
<line x1="140" y1="305.2" x2="140" y2="308.2" stroke="#000" stroke-width="1.6"/>
<line x1="147.61" y1="305.2" x2="147.61" y2="308.2" stroke="#000" stroke-width="1.6"/>
<line x1="153.01" y1="305.2" x2="153.01" y2="308.2" stroke="#000" stroke-width="1.6"/>
<line x1="157.2" y1="305.2" x2="157.2" y2="308.2" stroke="#000" stroke-width="1.6"/>
<line x1="160.62" y1="305.2" x2="160.62" y2="308.2" stroke="#000" stroke-width="1.6"/>
<line x1="163.51" y1="305.2" x2="163.51" y2="308.2" stroke="#000" stroke-width="1.6"/>
<line x1="166.01" y1="305.2" x2="166.01" y2="308.2" stroke="#000" stroke-width="1.6"/>
<line x1="168.22" y1="305.2" x2="168.22" y2="308.2" stroke="#000" stroke-width="1.6"/>
<line x1="170.2" y1="305.2" x2="170.2" y2="310" stroke="#000" stroke-width="1.6"/>
<line x1="183.2" y1="305.2" x2="183.2" y2="308.2" stroke="#000" stroke-width="1.6"/>
<line x1="190.81" y1="305.2" x2="190.81" y2="308.2" stroke="#000" stroke-width="1.6"/>
<line x1="196.21" y1="305.2" x2="196.21" y2="308.2" stroke="#000" stroke-width="1.6"/>
<line x1="200.4" y1="305.2" x2="200.4" y2="308.2" stroke="#000" stroke-width="1.6"/>
<line x1="203.82" y1="305.2" x2="203.82" y2="308.2" stroke="#000" stroke-width="1.6"/>
<line x1="206.71" y1="305.2" x2="206.71" y2="308.2" stroke="#000" stroke-width="1.6"/>
<line x1="209.21" y1="305.2" x2="209.21" y2="308.2" stroke="#000" stroke-width="1.6"/>
<line x1="211.42" y1="305.2" x2="211.42" y2="308.2" stroke="#000" stroke-width="1.6"/>
<line x1="213.4" y1="305.2" x2="213.4" y2="310" stroke="#000" stroke-width="1.8"/>
<text x="40.6" y="321.8" font-size="11.8" text-anchor="middle" style="stroke-width:0.05px">10<tspan font-size="8.2" dy="-4.9">0</tspan></text>
<text x="83.8" y="321.8" font-size="11.8" text-anchor="middle" style="stroke-width:0.05px">10<tspan font-size="8.2" dy="-4.9">1</tspan></text>
<text x="127" y="321.8" font-size="11.8" text-anchor="middle" style="stroke-width:0.05px">10<tspan font-size="8.2" dy="-4.9">2</tspan></text>
<text x="170.2" y="321.8" font-size="11.8" text-anchor="middle" style="stroke-width:0.05px">10<tspan font-size="8.2" dy="-4.9">3</tspan></text>
<text x="213.4" y="321.8" font-size="11.8" text-anchor="middle" style="stroke-width:0.05px">10<tspan font-size="8.2" dy="-4.9">4</tspan></text>
<text transform="translate(16.37,297) rotate(-90)" font-size="8.8" text-anchor="middle" fill="#000" font-weight="bold">Relative Count</text>
<line x1="22.6" y1="313" x2="22.6" y2="330" stroke="#000" stroke-width="1.3"/>
<line x1="22.6" y1="330" x2="37.5" y2="330" stroke="#000" stroke-width="1.3"/>
<path d="M20.3,314.5 L22.6,310 L24.9,314.5 Z" fill="#000" stroke="none" stroke-width="1"/>
<path d="M36,327.7 L40.5,330 L36,332.3 Z" fill="#000" stroke="none" stroke-width="1"/>
<text x="31.2" y="343.5" font-size="9" text-anchor="middle" fill="#000" font-weight="bold">PI</text>
<text x="126.1" y="214.7" font-size="9.2" text-anchor="start" fill="#000" font-weight="bold">48 hr</text>
<line x1="136.1" y1="240" x2="146.3" y2="240" stroke="#222" stroke-width="1.6"/>
<rect x="139" y="248.7" width="7" height="5.6" fill="#ff0000" stroke="none" stroke-width="0"/>
<rect x="139" y="260.1" width="7" height="5.7" fill="#00dd00" stroke="none" stroke-width="0"/>
<rect x="139" y="271.8" width="7" height="6.2" fill="#0044ff" stroke="none" stroke-width="0"/>
<text x="146.8" y="242.5" font-size="7.1" fill="#222" style="stroke-width:0.08px">DMSO</text>
<text x="146.8" y="253.8" font-size="7.1" fill="#222" style="stroke-width:0.08px">Carbo 5 <tspan font-style="italic">μ</tspan>M</text>
<text x="146.8" y="265.3" font-size="7.1" fill="#222" style="stroke-width:0.08px">ATQ 30 <tspan font-style="italic">μ</tspan>M + Carbo 5 <tspan font-style="italic">μ</tspan>M</text>
<text x="146.8" y="277" font-size="7.1" fill="#222" style="stroke-width:0.08px">ATQ 30 <tspan font-style="italic">μ</tspan>M + Carbo 5 <tspan font-style="italic">μ</tspan>M</text>
<text x="146.8" y="283.7" font-size="7.1" fill="#222" style="stroke-width:0.08px">+ NAC 2 mM</text>
<path d="M288,305 L288,305 L289.22,304.22 L290.56,303.9 L292.04,304.15 L293.43,304.06 L294.59,303.04 L296.34,303.34 L296.98,301.98 L298.21,301.21 L299.3,300.3 L300.31,299.31 L300.62,297.73 L301.56,296.89 L302.52,296.06 L303.51,295.26 L303.52,293.76 L304.4,292.88 L305.57,292.2 L305.64,290.86 L306.35,289.76 L306.74,288.54 L307.52,287.46 L308.2,286.35 L307.95,284.89 L308.92,283.88 L309.37,282.68 L309.91,281.52 L310.1,280.22 L310.92,279.07 L310.58,277.76 L310.84,276.56 L310.88,275.31 L311.63,274.19 L311.55,272.93 L311.56,271.67 L311.67,270.44 L312.43,269.32 L312.53,268.09 L312.85,266.89 L312.75,265.62 L313.06,264.43 L312.94,263.15 L313.71,262.03 L313.18,260.69 L313.78,259.5 L314.23,258.28 L314.3,257.02 L313.88,255.7 L314.18,254.47 L314.93,253.29 L314.89,252.02 L315.28,250.8 L315.43,249.55 L315.17,248.24 L315.77,247.05 L315.76,245.78 L315.52,244.48 L315.71,243.23 L315.57,241.96 L316.02,240.74 L316.7,239.55 L315.98,238.21 L316.57,237.01 L316.24,235.71 L316.33,234.46 L317.02,233.26 L316.74,231.97 L316.68,230.71 L316.9,229.47 L317.52,228.26 L317.59,227.01 L317.14,225.7 L317.48,224.47 L318.34,223.3 L317.72,221.97 L318.2,220.73 L318.19,219.45 L318.69,218.21 L318.65,216.92 L318.97,215.67 L318.85,214.37 L318.64,213.06 L318.77,211.78 L318.81,210.5 L319.69,209.31 L319.83,207.79 L320.74,209.08 L320.77,210.91 L322.3,211.96 L321.78,213.25 L322.74,214.34 L322.53,215.6 L322.94,216.76 L322.51,218.05 L322.89,219.22 L323.03,220.42 L323.07,221.64 L323.13,222.85 L323.82,223.98 L323.73,225.21 L324.05,226.39 L324.55,227.55 L324,228.85 L324.41,230.01 L324.31,231.28 L325.04,232.47 L324.84,233.75 L325.04,235 L324.9,236.27 L325.67,237.46 L325.53,238.73 L325.52,240 L326.05,241.21 L325.7,242.51 L325.64,243.77 L326.08,244.99 L325.98,246.26 L326.14,247.51 L326.66,248.72 L326.65,249.99 L326.13,251.3 L326.91,252.48 L326.94,253.74 L327.41,254.92 L327.53,256.19 L327.83,257.43 L327.33,258.83 L327.78,260.04 L327.88,261.32 L328.02,262.6 L328.64,263.77 L328.58,265.08 L329.21,266.26 L329.58,267.48 L329.31,268.84 L329.6,270.08 L329.81,271.34 L330.52,272.5 L330.48,273.8 L331.08,274.95 L331.24,276.37 L331.97,277.44 L333.18,278.23 L333.29,279.67 L334.6,280.39 L335.35,281.46 L335.48,282.89 L336.51,283.78 L336.98,285.01 L337.69,286.09 L338.96,286.71 L339.21,288.15 L340.37,288.86 L341.05,289.96 L341.92,290.9 L342.41,292.15 L343.21,293.15 L344.37,293.87 L345.23,294.68 L346.12,295.55 L347.05,296.36 L348.25,296.8 L349.2,297.57 L349.85,298.79 L350.88,299.45 L351.86,300.46 L353.04,300.82 L354.25,301.09 L355.58,300.97 L356.83,301.13 L357.96,301.64 L359.1,302.15 L360.27,302.57 L361.44,302.95 L362.68,303.14 L363.71,303.97 L365.01,303.79 L366.25,304.05 L367.47,304.55 L368.73,304.56 L370.01,304.13 L371.27,304.16 L372.48,304.81 L373.78,304.09 L375.02,304.3 L376.25,304.78 L377.5,304.87 L378.77,304.58 L380,305 L380,305 Z" fill="rgb(65,135,235)" fill-opacity="0.5"/>
<path d="M300,305 L300,305 L301.02,303.86 L302.35,303.25 L303.89,302.98 L304.97,301.99 L305.92,300.93 L306.21,299.62 L306.86,298.44 L306.45,296.86 L307.06,295.67 L307.37,294.37 L308.23,293.28 L308.48,292.05 L308.54,290.76 L309.35,289.69 L309.25,288.35 L309.8,287.2 L310.07,285.98 L310.95,284.92 L310.91,283.61 L311.1,282.35 L311.22,281.09 L311.93,279.98 L312.47,278.86 L312.85,277.71 L313.42,276.6 L313.67,275.4 L313.47,274.07 L313.71,272.87 L314.65,271.87 L315.02,270.71 L315.09,269.46 L315.75,268.38 L315.82,267.13 L315.9,265.88 L316.14,264.68 L316.32,263.52 L317.15,262.38 L317.62,261.19 L317.84,259.95 L317.62,258.63 L318.03,257.43 L318.5,256.23 L318.6,254.97 L318.61,253.7 L318.64,252.43 L318.95,251.2 L318.82,249.9 L319.05,248.67 L319.75,247.51 L320.27,246.32 L320.05,245.01 L320.12,243.69 L320.27,242.38 L320.59,241.09 L321.14,239.85 L321,238.49 L321.71,237.27 L321.13,235.85 L321.5,234.57 L321.91,233.3 L322.01,231.99 L322.62,230.77 L322.77,229.5 L323.05,228.24 L322.9,226.92 L322.5,225.57 L323.21,224.37 L323.36,223.1 L323.47,221.82 L323.44,220.52 L324.03,219.3 L324.4,218.09 L323.87,216.74 L324.68,215.68 L324.64,214.44 L325.04,213.29 L325.66,212.2 L325.98,211.03 L325.93,209.79 L325.75,208.51 L325.91,207.55 L327.02,208.44 L327.26,209.66 L327.27,210.96 L328.18,211.98 L328.33,213.19 L327.76,214.46 L327.87,215.67 L328.6,216.83 L328.63,218.04 L328.85,219.24 L329.1,220.44 L329.09,221.66 L328.47,222.94 L329.47,224.07 L329.43,225.29 L329.56,226.5 L329.79,227.7 L329.45,228.95 L329.34,230.18 L329.35,231.4 L329.66,232.59 L329.58,233.82 L330.49,234.95 L330.35,236.2 L329.81,237.51 L330.84,238.63 L330.78,239.88 L330.7,241.13 L331.05,242.34 L330.91,243.6 L331.54,244.77 L331.49,246.02 L330.91,247.32 L331.85,248.46 L331.23,249.77 L332.09,250.92 L331.42,252.24 L331.87,253.43 L332.04,254.65 L332.67,255.82 L332.9,257.04 L332.33,258.35 L333.05,259.51 L333.17,260.74 L332.69,262.09 L332.97,263.3 L334.1,264.28 L333.56,265.72 L334.3,266.81 L334.78,267.97 L335.38,269.09 L335.44,270.37 L335.2,271.73 L336.21,272.74 L336.69,273.9 L337.01,275.11 L337.36,276.3 L337.48,277.56 L337.27,278.91 L338.37,279.79 L338.9,280.94 L338.89,282.4 L339.48,283.52 L340.13,284.61 L341.4,285.33 L341.94,286.47 L342.07,287.86 L343.1,288.72 L343.55,289.92 L344.52,290.82 L345.3,291.63 L346.1,292.68 L346.84,293.79 L347.82,294.62 L348.96,295.25 L350.02,295.97 L350.98,296.83 L352.04,297.55 L352.98,298.43 L353.79,299.46 L355.13,299.73 L356.07,300.64 L357.03,301.5 L358.18,301.98 L359.59,301.94 L360.35,303.19 L361.51,303.64 L362.93,303.59 L363.99,304.24 L365,305 L365,305 Z" fill="rgb(232,55,30)" fill-opacity="0.4"/>
<path d="M310,305 L310,305 L310.27,303.6 L310.79,302.39 L313.18,302.65 L312.98,300.88 L314.56,300.51 L313.9,298.71 L314.17,297.35 L316.41,296.71 L316.72,295.37 L317.6,294.23 L317.44,292.71 L317.58,291.3 L318.57,290.12 L317.4,288.54 L318.63,287.47 L318.69,286.15 L318.33,284.75 L319.58,283.68 L319.26,282.28 L319.92,281.09 L319.91,279.76 L320.06,278.46 L320.42,277.21 L321.22,276.03 L322.24,274.93 L322.33,273.69 L322.36,272.43 L322.5,271.19 L321.5,269.77 L323.19,268.78 L321.85,267.31 L321.72,266.03 L322.73,264.92 L323.43,263.77 L322.77,262.41 L323.62,261.28 L323.03,259.92 L324.71,258.9 L323.8,257.47 L324.05,256.22 L324.37,254.98 L325.31,253.84 L325.76,252.63 L324.96,251.21 L324.97,249.92 L325.56,248.73 L324.56,247.28 L325.54,246.15 L326.65,245.03 L326.7,243.75 L325.34,242.3 L327.21,241.23 L326.31,239.88 L327.74,238.77 L326.53,237.38 L326.32,236.1 L327.18,234.93 L328.05,233.76 L327.18,232.41 L328.27,231.26 L328.06,229.98 L327.42,228.65 L327.42,227.39 L327.99,226.19 L327.89,224.92 L327.96,223.67 L328.7,222.48 L329.31,221.37 L328.94,220 L328.25,218.57 L328.67,217.37 L329.26,216.21 L330.04,215.09 L329.27,213.64 L329.41,212.38 L330.18,211.25 L330.36,210 L330.07,208.65 L331.43,207.65 L330.71,206.65 L331.87,207.65 L331.78,209 L331.93,210.28 L332.26,211.51 L332.44,212.79 L333.78,213.74 L333.62,215.12 L335.18,216 L333.96,217.72 L335.4,218.64 L335.57,219.94 L335.05,221.28 L336.48,222.36 L336.81,223.54 L335.53,224.87 L336.14,226.02 L337.38,227.11 L337.62,228.3 L337.03,229.57 L337.89,230.7 L336.2,232.07 L337.74,233.13 L337.65,234.35 L337.52,235.58 L337.36,236.8 L337.65,237.99 L337.34,239.28 L337.4,240.53 L338.01,241.74 L338.88,242.91 L337.08,244.35 L337.83,245.54 L339.29,246.66 L338.63,247.99 L338.07,249.31 L337.67,250.61 L339.83,251.65 L340.06,252.82 L339.24,254.19 L339.57,255.37 L338.74,256.74 L339.09,257.92 L340.37,258.94 L340.38,260.17 L340.22,261.43 L339.77,262.74 L341.45,263.69 L341.23,264.94 L342.21,266.09 L341.36,267.7 L343,268.69 L341.39,270.49 L342.59,271.58 L342.81,272.93 L344.15,273.88 L344.31,275.22 L344.29,276.63 L343.95,278.15 L345.07,279.13 L346.06,280.16 L345.08,281.92 L346.21,282.9 L346.94,284.03 L348.11,284.82 L348.43,286.01 L347.74,287.67 L349.78,288.06 L349.5,289.53 L349.84,290.71 L350.88,291.57 L350.64,293.17 L351.21,294.39 L352.12,295.35 L353.14,296.22 L354.88,296.53 L355.94,297.37 L356.08,298.88 L357.23,299.32 L358.37,299.77 L358.55,301.68 L360.35,301.15 L360.61,302.92 L361.77,303.93 L363.54,302.52 L364.45,304.55 L366.05,303.78 L367.49,303.72 L368.83,304 L370,305 L370,305 Z" fill="rgb(25,195,0)" fill-opacity="0.5"/>
<path d="M355,305 L355,304.89 L356.2,303.5 L357.4,303.85 L358.6,302.45 L359.8,302.5 L361,304.83 L362.2,303.8 L363.4,303.83 L364.6,304.47 L365.8,304.25 L367,304.21 L368.2,302.92 L369.4,303.98 L370.6,304.67 L371.8,304.34 L373,298.85 L374.2,298.77 L375.4,299 L376.6,300.29 L377.8,298.78 L379,298.39 L380.2,298.9 L381.4,298.9 L382.6,297.97 L383.8,299.92 L385,296.88 L386.2,298.25 L387.4,298.31 L388.6,297.6 L389.8,298.88 L391,298.32 L392.2,300.71 L393.4,297.16 L394.6,298.87 L395.8,298.18 L397,298.61 L398.2,299.51 L399.4,298.91 L400.6,299.83 L401.8,295.9 L403,303.38 L404.2,302.03 L405.4,302.49 L406.6,302.76 L407.8,304.13 L409,304.97 L410.2,302.96 L411.4,302.79 L412.6,303.95 L413.8,303.56 L415,303.3 L416.2,304.25 L417.4,302.91 L418.6,303.31 L419.8,303.84 L421,304.67 L422.2,303.34 L423.4,304.04 L424.6,299.79 L425.8,300.64 L427,298.32 L428.2,302.35 L429.4,300.34 L430.6,300.48 L431.8,299.47 L433,295.02 L434.2,299.07 L435.4,301.14 L436.6,296.41 L437.8,296.96 L439,298.97 L440.2,304.21 L441,305 Z" fill="rgb(30,195,10)" fill-opacity="0.45"/>
<path d="M280,305 L281.28,305.2 L282.48,304.53 L283.75,304.89 L285,304.76 L286.23,304.36 L287.48,304.32 L288.78,305.1 L290.03,304.82 L291.43,304.61 L292.85,304.64 L294.15,303.61 L295.75,304.07 L296.88,303.13 L297.6,301.72 L298.87,300.94 L300.42,300.32 L300.58,298.93 L301.69,298.26 L301.89,296.91 L303.06,296.28 L303.44,295.06 L304.38,294.26 L304.97,293.25 L305.96,292.3 L306.31,291.09 L306.55,289.84 L307.22,288.76 L307.44,287.5 L308.3,286.5 L308.23,285.12 L309,284.08 L309.52,282.95 L309.8,281.71 L309.91,280.51 L310.27,279.32 L311.01,278.2 L310.77,276.9 L311.59,275.8 L311.55,274.53 L312.26,273.41 L312.38,272.17 L312.47,270.93 L312.32,269.65 L312.19,268.36 L312.98,267.25 L313.41,266.08 L313.83,264.9 L313.28,263.56 L313.39,262.3 L314.45,261.18 L314.36,259.89 L314.24,258.61 L314.68,257.4 L314.21,256.07 L314.8,254.88 L315.1,253.65 L315.2,252.39 L314.88,251.08 L315.02,249.83 L315.71,248.65 L316.16,247.44 L315.51,246.09 L315.53,244.82 L315.78,243.59 L316.71,242.43 L316.4,241.14 L316.6,239.9 L317.31,238.71 L317.02,237.42 L316.76,236.14 L317.36,234.94 L316.72,233.62 L317.15,232.4 L317.73,231.2 L317.27,229.89 L317.25,228.63 L317.9,227.44 L317.82,226.17 L318.65,224.99 L317.82,223.65 L318.71,222.48 L318.38,221.19 L318.96,220 L318.69,218.73 L319.06,217.52 L318.81,216.25 L318.82,215 L319.2,213.79 L319.7,212.6 L319.33,211.32 L319.33,210.07 L319.66,208.86 L319.43,207.59 L320.18,206.3 L320.68,207.74 L321.54,209.03 L322.34,208.06 L323.23,206.95 L323.81,208.32 L324.11,209.74 L324.07,211.24 L324.53,212.65 L324.3,213.95 L324.81,215.15 L324.44,216.47 L324.79,217.68 L324.9,218.93 L324.99,220.19 L325.4,221.39 L325.68,222.62 L325.98,223.85 L326.43,225.05 L325.8,226.4 L326.3,227.6 L326.85,228.83 L326.05,230.18 L326.54,231.42 L326.6,232.69 L326.92,233.94 L327.37,235.18 L326.52,236.54 L327.54,237.73 L327.44,239.02 L326.85,240.35 L327.92,241.49 L327.62,242.75 L327.75,243.98 L328.12,245.18 L327.49,246.47 L328.16,247.65 L328.71,248.84 L328.31,250.11 L328.94,251.29 L328.28,252.58 L328.21,253.83 L328.28,255.06 L329.33,256.2 L328.76,257.49 L329.27,258.68 L329.2,259.92 L329.5,261.13 L329.6,262.35 L329.86,263.42 L330.02,264.94 L331.18,265.96 L330.96,267.67 L332.51,268.5 L332.7,270.51 L334.02,269.66 L335.35,269.54 L336.68,270.27 L337.97,270.01 L338.18,271.31 L338.91,272.4 L339.24,273.65 L340.26,274.64 L340.11,276.07 L340.73,277.2 L340.72,278.58 L342.17,279.42 L342.56,280.66 L342.39,282.11 L342.59,283.42 L343.57,284.44 L343.73,285.77 L344.34,286.93 L345.11,288.03 L345.63,289.25 L346.1,290.5 L347.26,291.4 L347.59,292.72 L347.81,294.18 L349.22,294.88 L350.09,296.11 L351.2,296.95 L352.31,297.52 L353.34,298.29 L354.45,298.85 L355.51,299.53 L356.86,299.51 L358.08,299.68 L359.33,300.17 L360.68,300.21 L361.91,300.74 L363.1,301.45 L364.39,301.82 L365.76,301.58 L367.09,301.68 L368.43,301.75 L369.74,302 L371.02,302.51 L372.38,302.41 L373.62,303.26 L375,303.07 L376.26,302.89 L377.5,303.05 L378.78,302.68 L379.99,303.51 L381.24,303.59 L382.51,303.23 L383.74,303.69 L385.01,303.25 L386.27,303.25 L387.51,303.33 L388.77,303.35 L389.99,303.87 L391.24,303.97 L392.49,304.13 L393.77,303.5 L395,304 L441,304" fill="none" stroke="#000" stroke-width="1.3" stroke-linejoin="round"/>
<path d="M424,304.3 L425.45,303.97 L426.66,303.08 L428.04,302.37 L429.5,303 L430.96,303.44 L431.82,302.56 L432.94,302.07 L433.93,301.64 L435.39,302.46 L436.94,303.45 L438.38,302.83 L439.61,303.76 L441,303.5" fill="none" stroke="#000" stroke-width="1.1" stroke-linejoin="round"/>
<line x1="268.6" y1="205.2" x2="268.6" y2="306" stroke="#000" stroke-width="2.2"/>
<line x1="265.3" y1="206" x2="268.6" y2="206" stroke="#000" stroke-width="2.3"/>
<text x="264.3" y="209.7" font-size="11.3" text-anchor="end" fill="#000">1</text>
<line x1="265.3" y1="255.5" x2="268.6" y2="255.5" stroke="#000" stroke-width="2.3"/>
<text x="264.3" y="259.2" font-size="11.3" text-anchor="end" fill="#000">0.5</text>
<line x1="265.3" y1="305" x2="268.6" y2="305" stroke="#000" stroke-width="2.3"/>
<text x="264.3" y="308.7" font-size="11.3" text-anchor="end" fill="#000">0</text>
<line x1="267.6" y1="305" x2="441.9" y2="305" stroke="#000" stroke-width="2.2"/>
<line x1="268.6" y1="305" x2="268.6" y2="309.8" stroke="#000" stroke-width="1.6"/>
<line x1="281.6" y1="305" x2="281.6" y2="308" stroke="#000" stroke-width="1.6"/>
<line x1="289.21" y1="305" x2="289.21" y2="308" stroke="#000" stroke-width="1.6"/>
<line x1="294.61" y1="305" x2="294.61" y2="308" stroke="#000" stroke-width="1.6"/>
<line x1="298.8" y1="305" x2="298.8" y2="308" stroke="#000" stroke-width="1.6"/>
<line x1="302.22" y1="305" x2="302.22" y2="308" stroke="#000" stroke-width="1.6"/>
<line x1="305.11" y1="305" x2="305.11" y2="308" stroke="#000" stroke-width="1.6"/>
<line x1="307.61" y1="305" x2="307.61" y2="308" stroke="#000" stroke-width="1.6"/>
<line x1="309.82" y1="305" x2="309.82" y2="308" stroke="#000" stroke-width="1.6"/>
<line x1="311.8" y1="305" x2="311.8" y2="309.8" stroke="#000" stroke-width="1.6"/>
<line x1="324.8" y1="305" x2="324.8" y2="308" stroke="#000" stroke-width="1.6"/>
<line x1="332.41" y1="305" x2="332.41" y2="308" stroke="#000" stroke-width="1.6"/>
<line x1="337.81" y1="305" x2="337.81" y2="308" stroke="#000" stroke-width="1.6"/>
<line x1="342" y1="305" x2="342" y2="308" stroke="#000" stroke-width="1.6"/>
<line x1="345.42" y1="305" x2="345.42" y2="308" stroke="#000" stroke-width="1.6"/>
<line x1="348.31" y1="305" x2="348.31" y2="308" stroke="#000" stroke-width="1.6"/>
<line x1="350.81" y1="305" x2="350.81" y2="308" stroke="#000" stroke-width="1.6"/>
<line x1="353.02" y1="305" x2="353.02" y2="308" stroke="#000" stroke-width="1.6"/>
<line x1="355" y1="305" x2="355" y2="309.8" stroke="#000" stroke-width="1.6"/>
<line x1="368" y1="305" x2="368" y2="308" stroke="#000" stroke-width="1.6"/>
<line x1="375.61" y1="305" x2="375.61" y2="308" stroke="#000" stroke-width="1.6"/>
<line x1="381.01" y1="305" x2="381.01" y2="308" stroke="#000" stroke-width="1.6"/>
<line x1="385.2" y1="305" x2="385.2" y2="308" stroke="#000" stroke-width="1.6"/>
<line x1="388.62" y1="305" x2="388.62" y2="308" stroke="#000" stroke-width="1.6"/>
<line x1="391.51" y1="305" x2="391.51" y2="308" stroke="#000" stroke-width="1.6"/>
<line x1="394.01" y1="305" x2="394.01" y2="308" stroke="#000" stroke-width="1.6"/>
<line x1="396.22" y1="305" x2="396.22" y2="308" stroke="#000" stroke-width="1.6"/>
<line x1="398.2" y1="305" x2="398.2" y2="309.8" stroke="#000" stroke-width="1.6"/>
<line x1="411.2" y1="305" x2="411.2" y2="308" stroke="#000" stroke-width="1.6"/>
<line x1="418.81" y1="305" x2="418.81" y2="308" stroke="#000" stroke-width="1.6"/>
<line x1="424.21" y1="305" x2="424.21" y2="308" stroke="#000" stroke-width="1.6"/>
<line x1="428.4" y1="305" x2="428.4" y2="308" stroke="#000" stroke-width="1.6"/>
<line x1="431.82" y1="305" x2="431.82" y2="308" stroke="#000" stroke-width="1.6"/>
<line x1="434.71" y1="305" x2="434.71" y2="308" stroke="#000" stroke-width="1.6"/>
<line x1="437.21" y1="305" x2="437.21" y2="308" stroke="#000" stroke-width="1.6"/>
<line x1="439.42" y1="305" x2="439.42" y2="308" stroke="#000" stroke-width="1.6"/>
<line x1="441.4" y1="305" x2="441.4" y2="309.8" stroke="#000" stroke-width="1.8"/>
<text x="268.6" y="321.6" font-size="11.8" text-anchor="middle" style="stroke-width:0.05px">10<tspan font-size="8.2" dy="-4.9">0</tspan></text>
<text x="311.8" y="321.6" font-size="11.8" text-anchor="middle" style="stroke-width:0.05px">10<tspan font-size="8.2" dy="-4.9">1</tspan></text>
<text x="355" y="321.6" font-size="11.8" text-anchor="middle" style="stroke-width:0.05px">10<tspan font-size="8.2" dy="-4.9">2</tspan></text>
<text x="398.2" y="321.6" font-size="11.8" text-anchor="middle" style="stroke-width:0.05px">10<tspan font-size="8.2" dy="-4.9">3</tspan></text>
<text x="441.4" y="321.6" font-size="11.8" text-anchor="middle" style="stroke-width:0.05px">10<tspan font-size="8.2" dy="-4.9">4</tspan></text>
<text transform="translate(242.17,297) rotate(-90)" font-size="8.8" text-anchor="middle" fill="#000" font-weight="bold">Relative Count</text>
<line x1="249.2" y1="314" x2="249.2" y2="330.3" stroke="#000" stroke-width="1.3"/>
<line x1="249.2" y1="330.3" x2="264" y2="330.3" stroke="#000" stroke-width="1.3"/>
<path d="M246.9,315.5 L249.2,311 L251.5,315.5 Z" fill="#000" stroke="none" stroke-width="1"/>
<path d="M262.5,328 L267,330.3 L262.5,332.6 Z" fill="#000" stroke="none" stroke-width="1"/>
<text x="256" y="342.9" font-size="9" text-anchor="middle" fill="#000" font-weight="bold">PI</text>
<text x="356" y="214.3" font-size="9.2" text-anchor="start" fill="#000" font-weight="bold">72 hr</text>
<line x1="358.8" y1="240" x2="367.5" y2="240" stroke="#222" stroke-width="1.6"/>
<rect x="361.7" y="248" width="5.8" height="5.8" fill="#ff0000" stroke="none" stroke-width="0"/>
<rect x="361.7" y="260.2" width="5.8" height="5.8" fill="#00dd00" stroke="none" stroke-width="0"/>
<rect x="361.7" y="271" width="5.8" height="5.7" fill="#0044ff" stroke="none" stroke-width="0"/>
<text x="368.5" y="242.5" font-size="7.1" fill="#222" style="stroke-width:0.08px">DMSO</text>
<text x="368.5" y="253.5" font-size="7.1" fill="#222" style="stroke-width:0.08px">Carbo 5 <tspan font-style="italic">μ</tspan>M</text>
<text x="368.5" y="265.5" font-size="7.1" fill="#222" style="stroke-width:0.08px">ATQ 30 <tspan font-style="italic">μ</tspan>M + Carbo 5 <tspan font-style="italic">μ</tspan>M</text>
<text x="368.5" y="276.5" font-size="7.1" fill="#222" style="stroke-width:0.08px">ATQ 30 <tspan font-style="italic">μ</tspan>M + Carbo 5 <tspan font-style="italic">μ</tspan>M</text>
<text x="368.5" y="283.5" font-size="7.1" fill="#222" style="stroke-width:0.08px">+ NAC 2 mM</text>
<path d="M68,460.6 L68,460.6 L68.86,459.69 L69.39,458.58 L70.22,457.66 L70.08,456.18 L71.24,455.44 L71.95,454.44 L71.87,452.99 L72.88,452.17 L73.79,451.28 L73.8,449.96 L74.6,448.82 L74.9,447.58 L74.69,446.24 L74.65,444.93 L74.97,443.69 L75.82,442.56 L75.67,441.23 L75.82,439.96 L76.19,438.74 L76.92,437.58 L76.51,436.2 L76.53,434.91 L77.69,433.84 L77.32,432.46 L77.64,431.23 L78.47,430.08 L77.98,428.78 L77.97,427.55 L78.95,426.49 L78.51,425.2 L78.68,424 L79.58,422.93 L79.07,421.62 L79.92,420.54 L79.55,419.26 L79.71,418.06 L79.81,416.86 L80.33,415.72 L80.54,414.53 L80.57,413.32 L80.86,412.14 L80.85,410.92 L81.57,409.82 L81.86,408.64 L81.87,407.42 L82.13,406.24 L81.58,404.93 L81.97,403.71 L82.15,402.45 L82.32,401.19 L83.34,400.08 L83.49,398.82 L83.72,397.57 L83.59,396.26 L83.37,394.93 L83.9,393.74 L83.75,392.42 L84.8,391.32 L84.39,389.96 L84.64,388.71 L85.5,387.58 L84.99,386.2 L85.91,385.08 L85.54,383.78 L86.12,382.67 L85.8,381.38 L86.8,380.35 L86.54,379.07 L86.71,377.88 L87.24,376.76 L87.41,375.56 L87.3,374.32 L87.4,373.11 L88.07,372.02 L87.95,370.65 L89.15,369.72 L89.05,368.35 L89.29,367.1 L90.17,365.96 L90.65,367.19 L90.72,368.51 L90.78,369.83 L91.18,371.07 L91.53,372.33 L91.84,373.59 L91.92,374.91 L91.91,376.24 L92.52,377.44 L92.47,378.78 L93.02,380 L93.5,381.16 L93.57,382.37 L93.01,383.63 L93.5,384.8 L93.72,385.99 L93.7,387.2 L93.5,388.43 L94.08,389.59 L94.22,390.79 L94.33,391.99 L94.81,393.15 L94.4,394.4 L94.58,395.6 L94.68,396.8 L94.85,398 L94.95,399.2 L94.83,400.42 L95.47,401.57 L94.8,402.85 L95.78,403.96 L95.16,405.24 L95.96,406.37 L95.47,407.63 L96.12,408.78 L96.42,409.93 L96.15,411.2 L96.05,412.43 L96.23,413.63 L96.39,414.82 L96.48,416.03 L97.58,417.07 L97.45,418.31 L97.91,419.46 L97.46,420.75 L97.95,421.9 L97.85,423.13 L97.99,424.33 L97.98,425.56 L98.49,426.69 L98.49,427.92 L99,429.06 L99.65,430.17 L99.04,431.49 L100.02,432.55 L100.22,433.74 L99.7,435.14 L100.73,436.04 L100.92,437.34 L102.03,438.2 L102.4,439.41 L102.47,440.76 L103.62,441.6 L103.72,442.94 L103.87,444.25 L105.06,445.08 L105.15,446.42 L105.65,447.57 L106.29,448.65 L106.69,449.85 L107.29,450.95 L108.28,451.61 L109.18,452.47 L109.98,453.46 L110.73,454.53 L112.16,454.64 L112.95,455.65 L114.22,456 L114.8,457.3 L116.03,457.69 L116.99,458.47 L117.9,459.3 L119.21,459.59 L120,460.6 L120,460.6 Z" fill="rgb(232,55,30)" fill-opacity="0.4"/>
<path d="M71.7,460.6 L71.7,460.6 L72.25,459.46 L72.65,458.28 L73.04,457.1 L72.81,455.74 L73.1,454.53 L73.36,453.31 L74.4,452.31 L74.29,450.98 L74.57,449.77 L75.03,448.61 L75.53,447.45 L75.49,446.15 L75.84,444.95 L76.63,443.94 L77.02,442.79 L76.95,441.5 L77.12,440.28 L78.31,439.4 L78.5,438.19 L78.75,437 L78.95,435.8 L79.86,434.82 L79.73,433.51 L79.91,432.3 L80.18,431.11 L80.8,430.05 L81.42,428.98 L81.57,427.78 L82.34,426.68 L82.24,425.44 L82.25,424.21 L82.64,423.05 L82.78,421.85 L82.99,420.66 L83.07,419.45 L83.29,418.26 L83.46,417.06 L83.99,415.93 L83.56,414.63 L84.34,413.53 L84.05,412.26 L84.79,411.16 L84.22,409.84 L84.83,408.71 L84.98,407.51 L85.44,406.36 L85.14,405.09 L85.39,403.9 L85.46,402.69 L86.08,401.57 L86.29,400.38 L85.92,399.09 L86.29,397.93 L86.51,396.74 L87.45,395.67 L87.16,394.39 L87.44,393.2 L87.34,391.94 L87.88,390.79 L88.21,389.59 L88.24,388.36 L87.76,387.05 L88.37,385.9 L88.59,384.7 L88.32,383.42 L89.24,382.32 L88.95,381.04 L89.1,379.82 L89.6,378.66 L89.73,377.44 L89.82,376.21 L90.35,375.06 L90.26,373.66 L90.33,372.29 L90.3,370.89 L91.02,369.64 L91.08,368.26 L91.49,366.95 L91.85,365.56 L92.47,366.66 L92.72,367.84 L92.89,369.04 L93.24,370.2 L92.8,371.56 L93.35,372.67 L93.97,373.76 L93.79,375.01 L93.9,376.22 L94.51,377.42 L93.86,378.65 L94.42,379.85 L93.69,381.09 L94.58,382.28 L94.47,383.5 L94.55,384.71 L93.97,385.94 L94.05,387.16 L94.33,388.37 L94.8,389.57 L94.55,390.79 L94.32,392.01 L95,393.21 L94.17,394.45 L94.29,395.66 L94.24,396.88 L94.51,398.09 L94.62,399.3 L94.3,400.53 L95.05,401.72 L95.05,402.93 L95.27,404.14 L95.25,405.36 L94.66,406.59 L95.4,407.73 L94.97,409.07 L95.53,410.24 L95.27,411.55 L95.6,412.76 L95.89,413.97 L95.95,415.23 L96.95,416.32 L96.95,417.59 L97.06,418.83 L97.21,420.07 L97.19,421.34 L97.2,422.61 L97.55,423.81 L97.61,425.18 L98.36,426.24 L99.21,427.25 L99.61,428.46 L99.93,429.72 L100.41,430.9 L101.35,431.87 L101.9,433.02 L102.2,434.28 L103.09,435.27 L103.04,436.7 L104.38,437.48 L104.33,438.91 L105.01,439.99 L105.92,440.83 L106.27,442.04 L107.02,442.99 L107.28,444.26 L108.01,445.21 L108.93,446.05 L109.36,447.21 L110.01,448.21 L111.28,448.81 L111.39,450.18 L112.06,451.18 L112.59,452.27 L113.45,453.14 L114.42,453.94 L115.14,454.74 L116.04,455.76 L117.36,455.99 L118.21,457.09 L119.41,457.55 L120.4,458.4 L121.74,458.61 L122.87,459.18 L123.69,460.33 L125,460.6 L125,460.6 Z" fill="rgb(60,105,255)" fill-opacity="0.5"/>
<path d="M80.6,460.6 L80.6,460.6 L81.78,460.11 L82.23,458.77 L83.44,458.31 L84.15,457.28 L85.41,456.87 L86.11,455.83 L86.47,454.94 L88.34,453.89 L88.26,452.61 L88.09,451.33 L87.05,449.93 L86.99,448.66 L88.47,447.57 L88.85,446.35 L88.58,445.05 L87.64,443.66 L89.05,442.57 L88.71,441.26 L88.49,439.96 L89.17,438.78 L88.97,437.48 L89.62,436.29 L90.02,435.07 L90.75,433.89 L88.73,432.38 L90.03,431.27 L91.09,430.22 L90.63,428.83 L90.7,427.54 L91.62,426.42 L89.85,424.77 L91.97,423.89 L91.8,422.56 L91.96,421.29 L91.54,419.91 L92.54,418.81 L91.58,417.32 L92.81,416.26 L92.4,414.92 L94.24,413.89 L94.09,412.6 L93.43,411.24 L94.3,410.08 L93.55,408.71 L94.06,407.51 L93.33,406.14 L95.22,405.12 L95.15,403.84 L95.31,402.59 L93.8,401.11 L95.79,400.11 L93.96,398.59 L95.49,397.52 L95.47,396.25 L94.57,394.85 L95.64,393.72 L96.96,392.63 L96.47,391.29 L95.87,389.94 L97.28,388.85 L96.31,387.45 L97.82,386.38 L96.75,384.97 L96.12,383.61 L98.5,382.66 L96.44,381.11 L97.05,379.92 L98.51,378.84 L97.05,377.37 L98.28,376.26 L99.22,375.12 L98.72,373.78 L98.29,372.45 L99.47,371.34 L99.81,370.08 L99.34,368.62 L99.6,367.23 L98.98,365.76 L99.33,364.38 L98.49,363.22 L98.8,364.62 L101.44,365.57 L101.23,367.06 L101.42,368.47 L100.28,370.14 L101.98,371.1 L102.31,372.34 L101.1,373.88 L102.81,374.84 L101.08,376.48 L102.61,377.48 L101.77,378.95 L102.21,380.14 L103.95,381.14 L102.75,382.67 L103.89,383.78 L104.59,384.97 L105.25,386.16 L103.86,387.73 L104.44,388.94 L105.3,390.1 L104.23,391.6 L106.02,392.59 L105.63,393.97 L106.78,394.99 L106.42,396.36 L105.4,397.88 L106.61,398.89 L107.73,399.92 L107.81,401.19 L107.09,402.64 L108.26,403.65 L107.05,405.2 L109.33,405.98 L107.6,407.59 L108.45,408.66 L108.21,409.96 L109.61,410.93 L110.55,411.98 L110.55,413.23 L109.69,414.66 L111.41,415.56 L111.44,416.75 L110.15,418.41 L110.24,419.7 L110.63,420.92 L111,422.13 L112.01,423.18 L111.57,424.61 L112.33,425.75 L113.02,426.8 L113.69,427.86 L115,428.72 L115.2,429.92 L115.18,431.19 L115.03,432.5 L116.19,433.41 L114.52,435.19 L115.83,436.08 L116.03,437.44 L116.26,438.79 L118.33,439.24 L117.41,441.14 L117.82,442.4 L119.94,442.83 L120.83,443.85 L119.88,445.77 L120.25,447.04 L121.1,448.24 L122.64,448.69 L123.01,450.01 L124.75,450.31 L125.26,451.52 L125.65,452.82 L125.75,454.33 L127.52,454.11 L127.66,456.62 L129.99,455.38 L130.01,458.11 L132.13,457.23 L132.77,459.26 L133.94,459.61 L135.01,460.29 L136.52,459.48 L137.52,460.38 L138.98,459.75 L140,460.6 L140,460.6 Z" fill="rgb(25,195,0)" fill-opacity="0.5"/>
<path d="M122,460.6 L122,458.93 L123,460.38 L124,458.83 L125,459.42 L126,460.48 L127,458.72 L128,459.97 L129,460.46 L130,460.08 L131,460.55 L132,460.04 L133,459.18 L134,458.62 L135,459.34 L136,458.89 L137,458.96 L138,459.17 L139,459.83 L140,460.1 L141,456.05 L142,454.99 L143,455.56 L144,454.87 L145,457.51 L146,456.66 L147,452.93 L148,453.51 L149,453.15 L150,454.28 L151,456.76 L152,455.16 L153,454.87 L154,453.31 L155,456.76 L156,454.56 L157,457.21 L158,453.88 L159,454.83 L160,455.93 L161,455.41 L162,454.46 L163,456 L164,454.65 L165,453.22 L166,454.11 L167,456.58 L168,457.69 L169,454.45 L170,453.35 L171,458.23 L172,455.86 L173,456.19 L174,454.7 L175,454.58 L176,455.99 L177,458.51 L178,455.54 L179,456 L180,453.32 L181,458.77 L182,455.12 L183,458 L184,456.82 L185,454.97 L186,455.13 L187,453.24 L188,454.72 L189,455.28 L190,454.87 L191,454.36 L192,460.19 L193,459.17 L194,458.64 L195,460.53 L196,460.1 L197,458.63 L198,450.89 L199,455.88 L200,456.28 L201,453.48 L202,448.57 L203,454.1 L204,451.23 L205,456.82 L206,450.5 L207,454.52 L208,452.29 L209,449.2 L210,453.11 L211,453.93 L212,460.25 L213,458.93 L214,460.6 Z" fill="rgb(25,195,0)" fill-opacity="0.45"/>
<path d="M60,460.6 L61.21,460.15 L62.58,460.52 L63.82,460.2 L64.89,459.52 L65.73,458.34 L66.4,457.03 L67.95,456.4 L68.44,454.97 L68.87,453.73 L69.24,452.46 L69.82,451.28 L71.01,450.37 L70.8,448.83 L71.76,447.81 L72.06,446.6 L72.17,445.35 L72.38,444.13 L72.49,442.88 L72.49,441.61 L73.4,440.51 L73.7,439.3 L73.57,438.01 L73.42,436.69 L74.32,435.52 L73.74,434.13 L73.89,432.85 L74.57,431.65 L74.99,430.4 L74.89,429.09 L74.57,427.75 L75.66,426.61 L74.9,425.26 L75.24,424.03 L76.08,422.86 L76.01,421.59 L76.1,420.33 L75.5,419 L76.48,417.84 L76.13,416.54 L75.84,415.24 L76.83,414.08 L77.12,412.85 L76.29,411.5 L76.87,410.29 L77.5,409.1 L77.02,407.77 L77.2,406.51 L77.93,405.35 L77.77,404.04 L78.59,402.89 L78.65,401.62 L78.86,400.37 L78.91,399.09 L78.57,397.74 L79.32,396.58 L79.41,395.31 L79.52,394.05 L79.82,392.81 L79.75,391.51 L79.85,390.24 L80.83,389.13 L80.46,387.76 L80.49,386.42 L81.74,385.38 L81.55,383.99 L82.04,382.76 L82,381.4 L82.11,380.08 L82.62,378.88 L83.33,377.68 L82.9,376.32 L83.76,375.15 L83.27,373.79 L84.09,372.6 L83.48,371.22 L83.94,369.99 L83.86,368.53 L84.14,367.13 L84.8,365.8 L84.89,364.37 L85.26,363 L85.69,364.18 L85.67,365.39 L85.74,366.59 L85.18,367.83 L86.16,368.97 L85.87,370.19 L85.47,371.43 L85.86,372.61 L86.29,373.78 L85.56,375.08 L86.7,376.19 L86.85,377.44 L87.15,378.68 L86.87,379.99 L86.58,381.3 L87.39,382.47 L87.56,383.72 L87.18,385.05 L88.17,386.23 L88.45,387.51 L87.96,388.93 L88.79,390.13 L88.53,391.5 L89.15,392.74 L88.87,394.12 L88.81,395.46 L89.45,396.69 L89.88,397.86 L89.74,399.14 L89.89,400.37 L90.82,401.44 L90.86,402.69 L90.95,403.93 L91.05,405.16 L91.54,406.32 L91.36,407.62 L92.03,408.74 L91.56,410.09 L92.41,411.22 L92.8,412.44 L93.2,413.66 L93.4,414.92 L93.56,416.19 L93.09,417.58 L93.84,418.73 L94.05,419.97 L94.27,421.37 L94.97,422.48 L95.89,423.5 L97.41,424.23 L98.44,425.43 L99.4,426.7 L100.27,427.67 L100.83,428.82 L101.6,429.84 L102.22,430.96 L102.38,432.34 L103.16,433.36 L103.95,434.37 L104.55,435.5 L105.03,436.7 L105.58,437.86 L106.84,438.63 L106.66,440.16 L107.55,441.1 L108.19,442.16 L108.08,443.55 L108.8,444.58 L109.72,445.5 L110.56,446.47 L110.65,447.75 L111.54,448.55 L112.49,449.3 L113.59,449.87 L114.14,451.06 L115.28,451.6 L115.81,452.82 L116.88,453.42 L117.95,454.03 L118.55,455.32 L119.98,455.55 L121.42,455.79 L122.58,456.58 L123.95,456.96 L125.01,457.92 L126.18,458.64 L127.42,458.88 L128.72,458.77 L130.06,458.42 L131.3,458.72 L132.55,458.88 L133.77,459.26 L135,459.6 L213,460" fill="none" stroke="#000" stroke-width="1.8" stroke-linejoin="round"/>
<path d="M195,460 L196.4,459.47 L197.43,458.2 L198.99,457.99 L199.94,456.7 L200.86,455.61 L201.72,456.97 L202.96,457.89 L204.54,457.61 L206.04,456.75 L207.51,457.2 L209.02,457.65 L210.42,456.76 L211.99,457.01 L212.75,458.5 L213.5,460" fill="none" stroke="#000" stroke-width="1.2" stroke-linejoin="round"/>
<line x1="41" y1="361.9" x2="41" y2="461.6" stroke="#000" stroke-width="2.2"/>
<line x1="37.7" y1="362.7" x2="41" y2="362.7" stroke="#000" stroke-width="2.3"/>
<text x="36.7" y="366.4" font-size="11.3" text-anchor="end" fill="#000">1</text>
<line x1="37.7" y1="411.65" x2="41" y2="411.65" stroke="#000" stroke-width="2.3"/>
<text x="36.7" y="415.35" font-size="11.3" text-anchor="end" fill="#000">0.5</text>
<line x1="37.7" y1="460.6" x2="41" y2="460.6" stroke="#000" stroke-width="2.3"/>
<text x="36.7" y="464.3" font-size="11.3" text-anchor="end" fill="#000">0</text>
<line x1="40" y1="460.6" x2="214.3" y2="460.6" stroke="#000" stroke-width="2.2"/>
<line x1="41" y1="460.6" x2="41" y2="465.4" stroke="#000" stroke-width="1.6"/>
<line x1="54" y1="460.6" x2="54" y2="463.6" stroke="#000" stroke-width="1.6"/>
<line x1="61.61" y1="460.6" x2="61.61" y2="463.6" stroke="#000" stroke-width="1.6"/>
<line x1="67.01" y1="460.6" x2="67.01" y2="463.6" stroke="#000" stroke-width="1.6"/>
<line x1="71.2" y1="460.6" x2="71.2" y2="463.6" stroke="#000" stroke-width="1.6"/>
<line x1="74.62" y1="460.6" x2="74.62" y2="463.6" stroke="#000" stroke-width="1.6"/>
<line x1="77.51" y1="460.6" x2="77.51" y2="463.6" stroke="#000" stroke-width="1.6"/>
<line x1="80.01" y1="460.6" x2="80.01" y2="463.6" stroke="#000" stroke-width="1.6"/>
<line x1="82.22" y1="460.6" x2="82.22" y2="463.6" stroke="#000" stroke-width="1.6"/>
<line x1="84.2" y1="460.6" x2="84.2" y2="465.4" stroke="#000" stroke-width="1.6"/>
<line x1="97.2" y1="460.6" x2="97.2" y2="463.6" stroke="#000" stroke-width="1.6"/>
<line x1="104.81" y1="460.6" x2="104.81" y2="463.6" stroke="#000" stroke-width="1.6"/>
<line x1="110.21" y1="460.6" x2="110.21" y2="463.6" stroke="#000" stroke-width="1.6"/>
<line x1="114.4" y1="460.6" x2="114.4" y2="463.6" stroke="#000" stroke-width="1.6"/>
<line x1="117.82" y1="460.6" x2="117.82" y2="463.6" stroke="#000" stroke-width="1.6"/>
<line x1="120.71" y1="460.6" x2="120.71" y2="463.6" stroke="#000" stroke-width="1.6"/>
<line x1="123.21" y1="460.6" x2="123.21" y2="463.6" stroke="#000" stroke-width="1.6"/>
<line x1="125.42" y1="460.6" x2="125.42" y2="463.6" stroke="#000" stroke-width="1.6"/>
<line x1="127.4" y1="460.6" x2="127.4" y2="465.4" stroke="#000" stroke-width="1.6"/>
<line x1="140.4" y1="460.6" x2="140.4" y2="463.6" stroke="#000" stroke-width="1.6"/>
<line x1="148.01" y1="460.6" x2="148.01" y2="463.6" stroke="#000" stroke-width="1.6"/>
<line x1="153.41" y1="460.6" x2="153.41" y2="463.6" stroke="#000" stroke-width="1.6"/>
<line x1="157.6" y1="460.6" x2="157.6" y2="463.6" stroke="#000" stroke-width="1.6"/>
<line x1="161.02" y1="460.6" x2="161.02" y2="463.6" stroke="#000" stroke-width="1.6"/>
<line x1="163.91" y1="460.6" x2="163.91" y2="463.6" stroke="#000" stroke-width="1.6"/>
<line x1="166.41" y1="460.6" x2="166.41" y2="463.6" stroke="#000" stroke-width="1.6"/>
<line x1="168.62" y1="460.6" x2="168.62" y2="463.6" stroke="#000" stroke-width="1.6"/>
<line x1="170.6" y1="460.6" x2="170.6" y2="465.4" stroke="#000" stroke-width="1.6"/>
<line x1="183.6" y1="460.6" x2="183.6" y2="463.6" stroke="#000" stroke-width="1.6"/>
<line x1="191.21" y1="460.6" x2="191.21" y2="463.6" stroke="#000" stroke-width="1.6"/>
<line x1="196.61" y1="460.6" x2="196.61" y2="463.6" stroke="#000" stroke-width="1.6"/>
<line x1="200.8" y1="460.6" x2="200.8" y2="463.6" stroke="#000" stroke-width="1.6"/>
<line x1="204.22" y1="460.6" x2="204.22" y2="463.6" stroke="#000" stroke-width="1.6"/>
<line x1="207.11" y1="460.6" x2="207.11" y2="463.6" stroke="#000" stroke-width="1.6"/>
<line x1="209.61" y1="460.6" x2="209.61" y2="463.6" stroke="#000" stroke-width="1.6"/>
<line x1="211.82" y1="460.6" x2="211.82" y2="463.6" stroke="#000" stroke-width="1.6"/>
<line x1="213.8" y1="460.6" x2="213.8" y2="465.4" stroke="#000" stroke-width="1.8"/>
<text x="41" y="477.2" font-size="11.8" text-anchor="middle" style="stroke-width:0.05px">10<tspan font-size="8.2" dy="-4.9">0</tspan></text>
<text x="84.2" y="477.2" font-size="11.8" text-anchor="middle" style="stroke-width:0.05px">10<tspan font-size="8.2" dy="-4.9">1</tspan></text>
<text x="127.4" y="477.2" font-size="11.8" text-anchor="middle" style="stroke-width:0.05px">10<tspan font-size="8.2" dy="-4.9">2</tspan></text>
<text x="170.6" y="477.2" font-size="11.8" text-anchor="middle" style="stroke-width:0.05px">10<tspan font-size="8.2" dy="-4.9">3</tspan></text>
<text x="213.8" y="477.2" font-size="11.8" text-anchor="middle" style="stroke-width:0.05px">10<tspan font-size="8.2" dy="-4.9">4</tspan></text>
<text transform="translate(15.17,451.5) rotate(-90)" font-size="8.8" text-anchor="middle" fill="#000" font-weight="bold">Relative Count</text>
<line x1="21.8" y1="469" x2="21.8" y2="484.2" stroke="#000" stroke-width="1.3"/>
<line x1="21.8" y1="484.2" x2="37" y2="484.2" stroke="#000" stroke-width="1.3"/>
<path d="M19.5,470.5 L21.8,466 L24.1,470.5 Z" fill="#000" stroke="none" stroke-width="1"/>
<path d="M35.5,481.9 L40,484.2 L35.5,486.5 Z" fill="#000" stroke="none" stroke-width="1"/>
<text x="30.8" y="498.3" font-size="9" text-anchor="middle" fill="#000" font-weight="bold">PI</text>
<text x="125.8" y="364.2" font-size="9.2" text-anchor="start" fill="#000" font-weight="bold">48 hr</text>
<line x1="129.3" y1="391.7" x2="138.9" y2="391.7" stroke="#222" stroke-width="1.6"/>
<rect x="130.7" y="400" width="7.3" height="6.6" fill="#ff0000" stroke="none" stroke-width="0"/>
<rect x="130.7" y="411.3" width="7.3" height="6.7" fill="#00dd00" stroke="none" stroke-width="0"/>
<rect x="130.7" y="423.6" width="7.3" height="6.1" fill="#0044ff" stroke="none" stroke-width="0"/>
<text x="142.1" y="394.2" font-size="7.1" fill="#222" style="stroke-width:0.08px">DMSO</text>
<text x="142.1" y="405.1" font-size="7.1" fill="#222" style="stroke-width:0.08px">Carbo 10 <tspan font-style="italic">μ</tspan>M</text>
<text x="142.1" y="415.1" font-size="7.1" fill="#222" style="stroke-width:0.08px">ATQ 30 <tspan font-style="italic">μ</tspan>M + Carbo 10 <tspan font-style="italic">μ</tspan>M</text>
<text x="142.1" y="428.2" font-size="7.1" fill="#222" style="stroke-width:0.08px">ATQ 30 <tspan font-style="italic">μ</tspan>M + Carbo 10 <tspan font-style="italic">μ</tspan>M</text>
<text x="142.1" y="434.8" font-size="7.1" fill="#222" style="stroke-width:0.08px">+ NAC 2 mM</text>
<path d="M297,460.6 L297,460.6 L297.35,459.37 L298.03,458.32 L299.16,457.54 L299.37,456.22 L299.86,455.07 L300.56,454.04 L301.39,453.09 L301.91,451.96 L302.36,450.74 L302.84,449.53 L303.24,448.29 L304,447.2 L304.59,446.04 L304.62,444.64 L305.58,443.63 L305.82,442.33 L306.94,441.38 L307.43,440.09 L306.89,438.73 L307.7,437.66 L307.61,436.4 L307.63,435.16 L308.63,434.13 L308.91,432.94 L309.05,431.73 L309.15,430.5 L309.74,429.38 L309.58,428.11 L309.95,426.94 L310.18,425.75 L310.63,424.6 L310.88,423.41 L310.59,422.1 L310.75,420.89 L311.34,419.77 L311.63,418.59 L311.65,417.35 L312.4,416.27 L312.64,415.07 L312.73,413.86 L312.83,412.65 L313.23,411.51 L312.99,410.23 L313.84,409.18 L313.42,407.86 L314.42,406.85 L314.4,405.61 L314.31,404.37 L314.47,403.17 L315.12,402.08 L315.23,400.87 L315.7,399.75 L315.37,398.45 L316.37,397.43 L316.18,396.16 L316.44,394.99 L316.92,393.78 L316.97,392.52 L317,391.24 L317.03,389.97 L317.38,388.75 L317.14,387.43 L317.54,386.21 L318.29,385.05 L317.77,383.69 L317.92,382.44 L318.86,381.3 L318.58,379.98 L318.9,378.75 L319.14,377.51 L319.44,376.28 L319.22,374.97 L319.84,373.79 L319.26,372.43 L320.27,371.3 L319.91,369.97 L320.4,368.77 L320.26,367.47 L320.87,366.28 L320.92,364.96 L321.07,366.2 L321.7,367.28 L321.58,368.6 L322,369.75 L322.92,370.74 L322.75,372.04 L322.74,373.28 L323.61,374.4 L323.83,375.61 L323.27,376.93 L323.41,378.15 L324.41,379.25 L323.94,380.56 L323.97,381.8 L324.8,382.92 L324.46,384.21 L325.11,385.36 L324.8,386.65 L325.25,387.83 L325.46,389.04 L325.98,390.21 L325.63,391.5 L325.76,392.72 L326.34,393.88 L326.75,395.07 L326.88,396.29 L326.89,397.53 L326.33,398.85 L326.76,400.06 L326.9,401.28 L327.33,402.44 L328.21,403.49 L328.25,404.74 L327.99,406.06 L328.37,407.22 L328.52,408.45 L328.97,409.6 L329.37,410.76 L329.6,411.97 L329.74,413.19 L330.5,414.27 L331.17,415.37 L331.18,416.62 L331.76,417.74 L331.79,418.99 L331.77,420.26 L332.36,421.38 L332.67,422.56 L333.11,423.71 L333.13,424.93 L333.56,426.08 L334.06,427.19 L334.32,428.42 L335.66,429.08 L336.07,430.24 L336.8,431.23 L336.62,432.7 L337.46,433.63 L338,434.72 L338.44,435.86 L339.72,436.55 L339.5,438.05 L340.58,438.85 L340.89,440.06 L341.66,441.05 L341.93,442.3 L342.89,443.18 L343.49,444.26 L344.09,445.34 L344.24,446.65 L345.05,447.62 L345.89,448.57 L346.28,449.75 L346.67,450.94 L347.4,451.92 L348.03,453.13 L348.62,454.35 L349.59,455.31 L350.26,456.48 L351.46,457.26 L351.8,458.67 L352.55,459.79 L353.7,460.6 L353.7,460.6 Z" fill="rgb(232,55,30)" fill-opacity="0.4"/>
<path d="M303,460.6 L303,460.6 L303.61,459.56 L303.75,458.27 L304.39,457.25 L305.56,456.52 L306.24,455.53 L306.7,454.41 L307.09,453.25 L307.7,452.22 L307.91,450.96 L308.92,450.15 L309.85,449.29 L309.73,447.88 L310.59,446.9 L311.29,445.85 L311.6,444.63 L311.81,443.37 L312.19,442.18 L313.13,441.23 L313.82,440.06 L313.94,438.85 L313.64,437.59 L314.15,436.43 L314.38,435.24 L314.12,433.98 L314.66,432.84 L314.46,431.58 L314.45,430.36 L314.42,429.13 L315.3,428.03 L315.5,426.84 L314.96,425.54 L315.15,424.34 L315.57,423.17 L315.63,421.96 L316.32,420.83 L315.95,419.56 L316.51,418.41 L316.64,417.21 L316.61,415.98 L317.28,414.85 L317.03,413.59 L317.28,412.4 L317.6,411.22 L317.51,409.99 L317.44,408.77 L318.35,407.68 L318.31,406.46 L318.25,405.24 L318.36,404.05 L318.63,402.87 L318.46,401.64 L318.4,400.42 L319.02,399.29 L319.52,398.15 L318.88,396.85 L319.91,395.78 L319.46,394.51 L320.23,393.4 L320.15,392.18 L319.81,390.92 L319.91,389.73 L320.73,388.62 L320.97,387.44 L320.95,386.23 L320.88,385.01 L320.96,383.78 L321.31,382.58 L321.47,381.36 L321.6,380.14 L321.17,378.87 L321.83,377.7 L322.07,376.49 L321.81,375.23 L321.36,373.95 L321.66,372.75 L322.23,371.57 L322.13,370.33 L322.73,369.15 L322.57,367.9 L322.75,366.69 L322.32,365.41 L322.81,364.22 L322.71,363.08 L323.04,364.41 L323.58,365.66 L324.69,366.66 L325,368 L324.71,369.3 L325.77,370.39 L325.97,371.62 L326.04,372.86 L325.68,374.17 L326.26,375.34 L326.07,376.62 L326.13,377.87 L326.33,379.09 L327.27,380.21 L326.81,381.53 L326.89,382.77 L327.16,383.98 L327.19,385.24 L327.41,386.46 L327.8,387.65 L327.73,388.92 L328.23,390.1 L328.84,391.26 L328.85,392.51 L328.39,393.84 L329.16,394.97 L329.23,396.2 L329.03,397.46 L329.42,398.63 L329.51,399.85 L330.03,401 L330.19,402.2 L330.82,403.33 L330.9,404.55 L331.14,405.74 L330.96,407.01 L331.17,408.2 L331.82,409.33 L331.47,410.62 L332.19,411.73 L332.11,412.98 L332.67,414.12 L332.42,415.4 L332.95,416.54 L332.37,417.87 L333.14,418.98 L332.88,420.25 L333.46,421.39 L333.77,422.57 L333.46,423.86 L334.21,424.93 L334.39,426.2 L334.67,427.44 L334.73,428.76 L335.41,429.86 L336.43,430.86 L336.44,432.19 L336.37,433.54 L336.86,434.71 L337.72,435.76 L338.35,436.88 L338.62,438.13 L338.56,439.48 L339.5,440.5 L339.23,441.92 L340.2,442.88 L340.51,444.18 L341.17,445.27 L342.22,446.11 L342.65,447.34 L343.22,448.48 L344.2,449.38 L344.64,450.6 L345.22,451.73 L345.61,452.99 L346.85,453.72 L347.61,454.75 L347.99,456 L348.73,456.98 L349.61,457.83 L350.09,459.03 L351.43,459.48 L352,460.6 L352,460.6 Z" fill="rgb(60,105,255)" fill-opacity="0.5"/>
<path d="M313.4,460.6 L313.4,460.6 L313.82,459.43 L314.13,458.22 L313.89,456.82 L314.89,455.85 L315.29,454.67 L315.5,453.43 L316.85,452.58 L317.75,451.57 L318.13,450.31 L316.66,448.57 L317.37,447.42 L319.1,446.54 L317.34,444.73 L317.7,443.48 L317.97,442.22 L320.47,441.55 L319.71,440 L319.68,438.73 L318.99,437.39 L321.09,436.36 L321.5,435.14 L320.89,433.8 L321.59,432.62 L320.88,431.27 L320.38,429.95 L320.2,428.66 L320.65,427.44 L320.41,426.15 L321.1,424.96 L320.44,423.62 L320.57,422.37 L322.84,421.36 L322.87,420.09 L322.91,418.83 L321.88,417.46 L322.25,416.24 L322.61,415.01 L323.34,413.82 L322.26,412.45 L322.91,411.25 L323.12,410.01 L323.97,408.83 L322.88,407.46 L322.14,406.13 L323.26,404.98 L324.58,403.85 L322.94,402.42 L324.19,401.28 L323.08,399.94 L323.51,398.71 L324.48,397.52 L323.26,396.18 L324.22,394.99 L324.63,393.76 L324.22,392.48 L325.22,391.29 L325.53,390.06 L324.2,388.71 L325.48,387.54 L325.55,386.29 L325.24,385.02 L325.31,383.77 L325.34,382.51 L325.85,381.29 L325.81,380.03 L324.85,378.71 L325.87,377.52 L326.11,376.29 L325.57,374.99 L326.74,373.82 L325.37,372.47 L326.04,371.26 L326.17,370.03 L326.46,368.7 L325.62,367.22 L327.02,366.06 L325.85,364.52 L327.08,363.35 L327.32,361.99 L326.85,363.26 L326.59,364.5 L326.42,365.74 L328.43,366.72 L326.88,368.12 L328.11,369.19 L328.17,370.4 L329.46,371.47 L327.57,372.9 L329.27,373.92 L329.29,375.14 L329.36,376.34 L329.68,377.52 L329.68,378.74 L329.82,379.92 L329.41,381.26 L330.03,382.45 L329.25,383.85 L329.01,385.17 L329.2,386.42 L330.77,387.45 L330.2,388.82 L330.28,390.09 L330.49,391.34 L331.49,392.46 L332.19,393.63 L330.99,395.1 L331.43,396.31 L332.38,397.44 L331.79,398.81 L333.47,399.83 L331.9,401.36 L331.82,402.66 L331.84,403.94 L334.15,404.85 L332.93,406.33 L332.9,407.61 L334.69,408.61 L333.73,410.04 L334.97,411.13 L335.1,412.39 L335.76,413.56 L335.34,414.91 L334.14,416.39 L334.99,417.53 L334.67,418.87 L334.46,420.27 L336.75,421.05 L335.36,422.7 L335.54,423.98 L336.44,425.09 L337.5,426.15 L338.19,427.31 L337.85,428.71 L338.31,429.91 L338.95,431.08 L338.33,432.63 L338.8,433.85 L340.08,434.83 L340.66,436.01 L340.25,437.5 L340.12,438.9 L340.62,440.16 L341.16,441.29 L341.05,442.69 L341.86,443.71 L343.07,444.56 L342.86,446.01 L343.53,447.08 L344.76,447.92 L345.64,448.91 L345.64,450.27 L345.34,451.75 L345.75,452.94 L347.27,453.66 L347.22,455.06 L348.99,455.48 L348.78,457.39 L349.92,458.28 L350.12,459.88 L351.5,460.6 L351.5,460.6 Z" fill="rgb(25,195,0)" fill-opacity="0.5"/>
<path d="M355,460.6 L355,458.45 L356,460.47 L357,458.19 L358,460.17 L359,458.19 L360,458.14 L361,460.05 L362,459.87 L363,460.24 L364,458.32 L365,457.17 L366,457.48 L367,457.18 L368,457.64 L369,456.36 L370,455.12 L371,453.87 L372,453.27 L373,450.91 L374,453.41 L375,450.76 L376,445.94 L377,442.38 L378,445.52 L379,443.87 L380,442.43 L381,444.07 L382,443.5 L383,440.7 L384,439.85 L385,439.92 L386,444.66 L387,449.97 L388,448.35 L389,447.33 L390,450 L391,449.77 L392,454.9 L393,453.4 L394,457.01 L395,457.55 L396,455.91 L397,458.32 L398,458.43 L399,458.2 L400,458.53 L401,459.13 L402,458.93 L403,459.2 L404,460.57 L405,459.71 L406,460.59 L407,459.5 L408,460.16 L409,459.99 L410,459.84 L411,460.24 L412,459.89 L413,459.34 L414,460.26 L415,459.2 L416,458.23 L417,458.8 L418,458.21 L419,460.33 L420,458.95 L421,460 L422,458.26 L423,459.36 L424,458.79 L425,458.66 L426,460.27 L427,453.48 L428,453.95 L429,458.39 L430,452.43 L431,453.6 L432,456.54 L433,450.87 L434,451.12 L435,453.86 L436,453.56 L437,454.52 L438,457.4 L439,452.07 L440,459.42 L441,460.6 Z" fill="rgb(30,195,10)" fill-opacity="0.45"/>
<path d="M284,460.6 L285.37,460.6 L286.63,459.99 L287.97,459.93 L289.3,459.78 L290.64,459.7 L292.2,460.06 L292.91,458.92 L293.88,458.12 L295.12,457.68 L295.96,456.71 L297.31,456.28 L298.06,455.14 L299.07,454.24 L299.64,452.95 L300.49,451.98 L300.79,450.79 L301.61,449.71 L301.8,448.5 L301.63,447.21 L301.79,446 L301.58,444.71 L302.67,443.68 L302.64,442.42 L302.67,441.18 L302.64,439.95 L303.15,438.75 L303.59,437.53 L303.29,436.21 L303.47,434.96 L303.92,433.75 L304.08,432.5 L303.73,431.17 L303.97,429.93 L304.49,428.73 L305.04,427.53 L304.87,426.23 L304.65,424.92 L305.08,423.71 L305.21,422.45 L306.01,421.29 L305.6,419.97 L306.55,418.86 L305.92,417.58 L305.93,416.36 L305.89,415.14 L306.53,414 L306.69,412.8 L307.1,411.63 L307.11,410.42 L307.1,409.21 L306.69,407.95 L307.78,406.85 L307.16,405.57 L307.27,404.37 L307.33,403.16 L307.92,402.01 L308.12,400.82 L307.87,399.58 L307.94,398.37 L307.8,397.14 L308.56,396.01 L308.82,394.82 L308.3,393.56 L308.56,392.37 L309.25,391.23 L309.33,390.03 L308.88,388.69 L309.98,387.57 L309.86,386.28 L310.03,385.03 L309.78,383.72 L310.66,382.57 L310.26,381.24 L310.65,380.02 L311.2,378.82 L311.21,377.55 L310.67,376.2 L310.8,374.9 L311.17,373.76 L311.36,372.57 L312.46,371.6 L312.38,370.34 L312.59,369.16 L312.77,367.94 L313.42,366.8 L313.88,365.57 L314.69,364.5 L314.89,363.16 L315.1,362.06 L315.33,363.36 L315.52,364.66 L315.86,365.94 L316.7,367.14 L316.64,368.49 L316.39,369.86 L317.13,371.07 L317.1,372.41 L317.7,373.65 L317.24,375.04 L317.91,376.23 L318.01,377.48 L317.65,378.79 L318.57,379.95 L318.8,381.19 L318.47,382.49 L318.58,383.74 L319.07,384.96 L318.9,386.24 L318.62,387.53 L318.62,388.79 L318.71,390.05 L318.98,391.28 L319.9,392.45 L319.72,393.73 L319.76,394.99 L320.35,396.2 L319.66,397.53 L320.34,398.72 L319.92,400.03 L320.16,401.27 L320.74,402.47 L320.79,403.73 L320.8,404.99 L321.21,406.21 L321.55,407.44 L321.23,408.74 L321.57,409.97 L321.67,411.22 L321.22,412.53 L321.4,413.78 L321.9,414.99 L322.46,416.19 L321.79,417.53 L322.47,418.72 L322.79,419.95 L322.21,421.28 L322.18,422.55 L323.03,423.72 L322.86,425.03 L323.31,426.47 L324.43,427.51 L325.37,428.66 L325.65,429.85 L326.07,428.54 L327.49,427.67 L327.96,426.39 L328.35,424.68 L329.53,425.81 L331.15,426.03 L332.17,427.15 L333.31,428.18 L333.82,429.62 L334.77,430.77 L336.04,431.86 L335.92,433.21 L336.22,434.42 L337.25,435.39 L337.65,436.57 L337.79,437.83 L337.71,439.17 L337.84,440.44 L338.78,441.44 L338.74,442.76 L339.29,443.89 L340.13,444.91 L340.4,446.12 L340.43,447.42 L341.25,448.42 L341.67,449.57 L341.89,450.8 L342.92,451.72 L343.02,452.96 L344.05,453.64 L345.09,454.31 L346.08,455.06 L347.38,455.28 L348.33,456.1 L349.4,456.71 L350.66,457 L351.42,458.3 L352.67,458.85 L354.08,458.78 L355.43,458.99 L356.74,459.3 L358,459.8 L441,460" fill="none" stroke="#000" stroke-width="1.3" stroke-linejoin="round"/>
<path d="M424,460 L424.97,459.13 L425.91,458.22 L426.8,457.34 L428.39,456.56 L429.12,454.92 L429.93,455.82 L430.19,457.1 L430.83,457.48 L432.45,457.35 L434.03,457.06 L435.73,456.22 L437.17,457.11 L438.08,458.01 L439.42,459.26 L441,459" fill="none" stroke="#000" stroke-width="1.1" stroke-linejoin="round"/>
<line x1="268.2" y1="361.2" x2="268.2" y2="461.6" stroke="#000" stroke-width="2.2"/>
<line x1="264.9" y1="362" x2="268.2" y2="362" stroke="#000" stroke-width="2.3"/>
<text x="263.9" y="365.7" font-size="11.3" text-anchor="end" fill="#000">1</text>
<line x1="264.9" y1="411.3" x2="268.2" y2="411.3" stroke="#000" stroke-width="2.3"/>
<text x="263.9" y="415" font-size="11.3" text-anchor="end" fill="#000">0.5</text>
<line x1="264.9" y1="460.6" x2="268.2" y2="460.6" stroke="#000" stroke-width="2.3"/>
<text x="263.9" y="464.3" font-size="11.3" text-anchor="end" fill="#000">0</text>
<line x1="267.2" y1="460.6" x2="441.5" y2="460.6" stroke="#000" stroke-width="2.2"/>
<line x1="268.2" y1="460.6" x2="268.2" y2="465.4" stroke="#000" stroke-width="1.6"/>
<line x1="281.2" y1="460.6" x2="281.2" y2="463.6" stroke="#000" stroke-width="1.6"/>
<line x1="288.81" y1="460.6" x2="288.81" y2="463.6" stroke="#000" stroke-width="1.6"/>
<line x1="294.21" y1="460.6" x2="294.21" y2="463.6" stroke="#000" stroke-width="1.6"/>
<line x1="298.4" y1="460.6" x2="298.4" y2="463.6" stroke="#000" stroke-width="1.6"/>
<line x1="301.82" y1="460.6" x2="301.82" y2="463.6" stroke="#000" stroke-width="1.6"/>
<line x1="304.71" y1="460.6" x2="304.71" y2="463.6" stroke="#000" stroke-width="1.6"/>
<line x1="307.21" y1="460.6" x2="307.21" y2="463.6" stroke="#000" stroke-width="1.6"/>
<line x1="309.42" y1="460.6" x2="309.42" y2="463.6" stroke="#000" stroke-width="1.6"/>
<line x1="311.4" y1="460.6" x2="311.4" y2="465.4" stroke="#000" stroke-width="1.6"/>
<line x1="324.4" y1="460.6" x2="324.4" y2="463.6" stroke="#000" stroke-width="1.6"/>
<line x1="332.01" y1="460.6" x2="332.01" y2="463.6" stroke="#000" stroke-width="1.6"/>
<line x1="337.41" y1="460.6" x2="337.41" y2="463.6" stroke="#000" stroke-width="1.6"/>
<line x1="341.6" y1="460.6" x2="341.6" y2="463.6" stroke="#000" stroke-width="1.6"/>
<line x1="345.02" y1="460.6" x2="345.02" y2="463.6" stroke="#000" stroke-width="1.6"/>
<line x1="347.91" y1="460.6" x2="347.91" y2="463.6" stroke="#000" stroke-width="1.6"/>
<line x1="350.41" y1="460.6" x2="350.41" y2="463.6" stroke="#000" stroke-width="1.6"/>
<line x1="352.62" y1="460.6" x2="352.62" y2="463.6" stroke="#000" stroke-width="1.6"/>
<line x1="354.6" y1="460.6" x2="354.6" y2="465.4" stroke="#000" stroke-width="1.6"/>
<line x1="367.6" y1="460.6" x2="367.6" y2="463.6" stroke="#000" stroke-width="1.6"/>
<line x1="375.21" y1="460.6" x2="375.21" y2="463.6" stroke="#000" stroke-width="1.6"/>
<line x1="380.61" y1="460.6" x2="380.61" y2="463.6" stroke="#000" stroke-width="1.6"/>
<line x1="384.8" y1="460.6" x2="384.8" y2="463.6" stroke="#000" stroke-width="1.6"/>
<line x1="388.22" y1="460.6" x2="388.22" y2="463.6" stroke="#000" stroke-width="1.6"/>
<line x1="391.11" y1="460.6" x2="391.11" y2="463.6" stroke="#000" stroke-width="1.6"/>
<line x1="393.61" y1="460.6" x2="393.61" y2="463.6" stroke="#000" stroke-width="1.6"/>
<line x1="395.82" y1="460.6" x2="395.82" y2="463.6" stroke="#000" stroke-width="1.6"/>
<line x1="397.8" y1="460.6" x2="397.8" y2="465.4" stroke="#000" stroke-width="1.6"/>
<line x1="410.8" y1="460.6" x2="410.8" y2="463.6" stroke="#000" stroke-width="1.6"/>
<line x1="418.41" y1="460.6" x2="418.41" y2="463.6" stroke="#000" stroke-width="1.6"/>
<line x1="423.81" y1="460.6" x2="423.81" y2="463.6" stroke="#000" stroke-width="1.6"/>
<line x1="428" y1="460.6" x2="428" y2="463.6" stroke="#000" stroke-width="1.6"/>
<line x1="431.42" y1="460.6" x2="431.42" y2="463.6" stroke="#000" stroke-width="1.6"/>
<line x1="434.31" y1="460.6" x2="434.31" y2="463.6" stroke="#000" stroke-width="1.6"/>
<line x1="436.81" y1="460.6" x2="436.81" y2="463.6" stroke="#000" stroke-width="1.6"/>
<line x1="439.02" y1="460.6" x2="439.02" y2="463.6" stroke="#000" stroke-width="1.6"/>
<line x1="441" y1="460.6" x2="441" y2="465.4" stroke="#000" stroke-width="1.8"/>
<text x="268.2" y="477.2" font-size="11.8" text-anchor="middle" style="stroke-width:0.05px">10<tspan font-size="8.2" dy="-4.9">0</tspan></text>
<text x="311.4" y="477.2" font-size="11.8" text-anchor="middle" style="stroke-width:0.05px">10<tspan font-size="8.2" dy="-4.9">1</tspan></text>
<text x="354.6" y="477.2" font-size="11.8" text-anchor="middle" style="stroke-width:0.05px">10<tspan font-size="8.2" dy="-4.9">2</tspan></text>
<text x="397.8" y="477.2" font-size="11.8" text-anchor="middle" style="stroke-width:0.05px">10<tspan font-size="8.2" dy="-4.9">3</tspan></text>
<text x="441" y="477.2" font-size="11.8" text-anchor="middle" style="stroke-width:0.05px">10<tspan font-size="8.2" dy="-4.9">4</tspan></text>
<text transform="translate(243.97,453.3) rotate(-90)" font-size="8.8" text-anchor="middle" fill="#000" font-weight="bold">Relative Count</text>
<line x1="249" y1="469" x2="249" y2="484.2" stroke="#000" stroke-width="1.3"/>
<line x1="249" y1="484.2" x2="264" y2="484.2" stroke="#000" stroke-width="1.3"/>
<path d="M246.7,470.5 L249,466 L251.3,470.5 Z" fill="#000" stroke="none" stroke-width="1"/>
<path d="M262.5,481.9 L267,484.2 L262.5,486.5 Z" fill="#000" stroke="none" stroke-width="1"/>
<text x="256.2" y="498.3" font-size="9" text-anchor="middle" fill="#000" font-weight="bold">PI</text>
<text x="356" y="364.9" font-size="9.2" text-anchor="start" fill="#000" font-weight="bold">72 hr</text>
<line x1="353.9" y1="387.1" x2="362.6" y2="387.1" stroke="#222" stroke-width="1.6"/>
<rect x="355" y="395.8" width="6.7" height="6.4" fill="#ff0000" stroke="none" stroke-width="0"/>
<rect x="355" y="407.4" width="6.7" height="6.4" fill="#00dd00" stroke="none" stroke-width="0"/>
<rect x="355" y="418.7" width="6.7" height="6.1" fill="#0044ff" stroke="none" stroke-width="0"/>
<text x="363.8" y="389.6" font-size="7.1" fill="#222" style="stroke-width:0.08px">DMSO</text>
<text x="363.8" y="400.3" font-size="7.1" fill="#222" style="stroke-width:0.08px">Carbo 10 <tspan font-style="italic">μ</tspan>M</text>
<text x="363.8" y="413.4" font-size="7.1" fill="#222" style="stroke-width:0.08px">ATQ 30 <tspan font-style="italic">μ</tspan>M + Carbo 10 <tspan font-style="italic">μ</tspan>M</text>
<text x="363.8" y="423.5" font-size="7.1" fill="#222" style="stroke-width:0.08px">ATQ 30 <tspan font-style="italic">μ</tspan>M + Carbo 10 <tspan font-style="italic">μ</tspan>M</text>
<text x="363.8" y="430.8" font-size="7.1" fill="#222" style="stroke-width:0.08px">+ NAC 2 mM</text>
<line x1="522.6" y1="216.3" x2="522.6" y2="308.7" stroke="#000" stroke-width="2.2"/>
<line x1="521.6" y1="307.7" x2="682" y2="307.7" stroke="#000" stroke-width="2.2"/>
<line x1="518.6" y1="307.7" x2="522.6" y2="307.7" stroke="#000" stroke-width="1.6"/>
<line x1="520.3" y1="295.84" x2="522.6" y2="295.84" stroke="#000" stroke-width="1"/>
<line x1="520.3" y1="288.9" x2="522.6" y2="288.9" stroke="#000" stroke-width="1"/>
<line x1="520.3" y1="283.98" x2="522.6" y2="283.98" stroke="#000" stroke-width="1"/>
<line x1="520.3" y1="280.16" x2="522.6" y2="280.16" stroke="#000" stroke-width="1"/>
<line x1="520.3" y1="277.04" x2="522.6" y2="277.04" stroke="#000" stroke-width="1"/>
<line x1="520.3" y1="274.4" x2="522.6" y2="274.4" stroke="#000" stroke-width="1"/>
<line x1="520.3" y1="272.12" x2="522.6" y2="272.12" stroke="#000" stroke-width="1"/>
<line x1="520.3" y1="270.1" x2="522.6" y2="270.1" stroke="#000" stroke-width="1"/>
<line x1="518.6" y1="268.3" x2="522.6" y2="268.3" stroke="#000" stroke-width="1.6"/>
<line x1="520.3" y1="256.44" x2="522.6" y2="256.44" stroke="#000" stroke-width="1"/>
<line x1="520.3" y1="249.5" x2="522.6" y2="249.5" stroke="#000" stroke-width="1"/>
<line x1="520.3" y1="244.58" x2="522.6" y2="244.58" stroke="#000" stroke-width="1"/>
<line x1="520.3" y1="240.76" x2="522.6" y2="240.76" stroke="#000" stroke-width="1"/>
<line x1="520.3" y1="237.64" x2="522.6" y2="237.64" stroke="#000" stroke-width="1"/>
<line x1="520.3" y1="235" x2="522.6" y2="235" stroke="#000" stroke-width="1"/>
<line x1="520.3" y1="232.72" x2="522.6" y2="232.72" stroke="#000" stroke-width="1"/>
<line x1="520.3" y1="230.7" x2="522.6" y2="230.7" stroke="#000" stroke-width="1"/>
<line x1="518.6" y1="228.9" x2="522.6" y2="228.9" stroke="#000" stroke-width="1.6"/>
<line x1="520.3" y1="217.04" x2="522.6" y2="217.04" stroke="#000" stroke-width="1"/>
<line x1="518.6" y1="228.9" x2="522.6" y2="228.9" stroke="#000" stroke-width="1.6"/>
<text x="518.1" y="311" font-size="9.2" text-anchor="end" fill="#000">1</text>
<text x="518.1" y="271.6" font-size="9.2" text-anchor="end" fill="#000">10</text>
<text x="518.1" y="232.2" font-size="9.2" text-anchor="end" fill="#000">100</text>
<line x1="531.9" y1="229.4" x2="531.9" y2="227.7" stroke="#111" stroke-width="1.4"/>
<line x1="528.7" y1="227.7" x2="535.1" y2="227.7" stroke="#111" stroke-width="1.6"/>
<rect x="526.8" y="230.2" width="10.2" height="77.5" fill="#ffffff" stroke="#000" stroke-width="1.7"/>
<line x1="543.4" y1="226.4" x2="543.4" y2="222.4" stroke="#111" stroke-width="1.4"/>
<line x1="540.2" y1="222.4" x2="546.6" y2="222.4" stroke="#111" stroke-width="1.6"/>
<rect x="538.3" y="227.2" width="10.2" height="80.5" fill="#ef1c2a" stroke="#000" stroke-width="1.7"/>
<line x1="554.9" y1="221.5" x2="554.9" y2="219.3" stroke="#111" stroke-width="1.4"/>
<line x1="551.7" y1="219.3" x2="558.1" y2="219.3" stroke="#111" stroke-width="1.6"/>
<rect x="549.8" y="222.3" width="10.2" height="85.4" fill="url(#hr)" stroke="#000" stroke-width="1.7"/>
<line x1="571.5" y1="231.4" x2="571.5" y2="229.7" stroke="#111" stroke-width="1.4"/>
<line x1="568.3" y1="229.7" x2="574.7" y2="229.7" stroke="#111" stroke-width="1.6"/>
<rect x="566.4" y="232.2" width="10.2" height="75.5" fill="#ffffff" stroke="#000" stroke-width="1.7"/>
<line x1="583" y1="231.4" x2="583" y2="229.7" stroke="#111" stroke-width="1.4"/>
<line x1="579.8" y1="229.7" x2="586.2" y2="229.7" stroke="#111" stroke-width="1.6"/>
<rect x="577.9" y="232.2" width="10.2" height="75.5" fill="#ef1c2a" stroke="#000" stroke-width="1.7"/>
<line x1="594.5" y1="230" x2="594.5" y2="228.3" stroke="#111" stroke-width="1.4"/>
<line x1="591.3" y1="228.3" x2="597.7" y2="228.3" stroke="#111" stroke-width="1.6"/>
<rect x="589.4" y="230.8" width="10.2" height="76.9" fill="url(#hr)" stroke="#000" stroke-width="1.7"/>
<line x1="611.1" y1="246.3" x2="611.1" y2="241.4" stroke="#111" stroke-width="1.4"/>
<line x1="607.9" y1="241.4" x2="614.3" y2="241.4" stroke="#111" stroke-width="1.6"/>
<rect x="606" y="247.1" width="10.2" height="60.6" fill="#ffffff" stroke="#000" stroke-width="1.7"/>
<line x1="622.6" y1="232.3" x2="622.6" y2="230.9" stroke="#111" stroke-width="1.4"/>
<line x1="619.4" y1="230.9" x2="625.8" y2="230.9" stroke="#111" stroke-width="1.6"/>
<rect x="617.5" y="233.1" width="10.2" height="74.6" fill="#ef1c2a" stroke="#000" stroke-width="1.7"/>
<line x1="634.1" y1="231.4" x2="634.1" y2="230" stroke="#111" stroke-width="1.4"/>
<line x1="630.9" y1="230" x2="637.3" y2="230" stroke="#111" stroke-width="1.6"/>
<rect x="629" y="232.2" width="10.2" height="75.5" fill="url(#hr)" stroke="#000" stroke-width="1.7"/>
<line x1="650.7" y1="287.2" x2="650.7" y2="271.4" stroke="#111" stroke-width="1.4"/>
<line x1="647.5" y1="271.4" x2="653.9" y2="271.4" stroke="#111" stroke-width="1.6"/>
<rect x="645.6" y="288" width="10.2" height="19.7" fill="#ffffff" stroke="#000" stroke-width="1.7"/>
<line x1="662.2" y1="251.6" x2="662.2" y2="249.3" stroke="#111" stroke-width="1.4"/>
<line x1="659" y1="249.3" x2="665.4" y2="249.3" stroke="#111" stroke-width="1.6"/>
<rect x="657.1" y="252.4" width="10.2" height="55.3" fill="#ef1c2a" stroke="#000" stroke-width="1.7"/>
<line x1="673.7" y1="237" x2="673.7" y2="233.5" stroke="#111" stroke-width="1.4"/>
<line x1="670.5" y1="233.5" x2="676.9" y2="233.5" stroke="#111" stroke-width="1.6"/>
<rect x="668.6" y="237.8" width="10.2" height="69.9" fill="url(#hr)" stroke="#000" stroke-width="1.7"/>
<rect x="574.7" y="194.4" width="9.3" height="5.8" fill="#ffffff" stroke="#000" stroke-width="1.3"/>
<rect x="574.7" y="202.6" width="9.3" height="4.6" fill="#ef1c2a" stroke="#000" stroke-width="1.3"/>
<rect x="574.7" y="210.6" width="9.3" height="5" fill="url(#hr)" stroke="#000" stroke-width="1.3"/>
<text x="589.9" y="200.1" font-size="7.6" text-anchor="start" fill="#222" style="stroke-width:0">PBS</text>
<text x="589.9" y="207.9" font-size="7.6" text-anchor="start" fill="#222" style="stroke-width:0">NAC 2mM</text>
<text x="589.9" y="215.5" font-size="7.6" text-anchor="start" fill="#222" style="stroke-width:0">NAC 10mM</text>
<text transform="translate(547.06,324.4) rotate(-90)" font-size="9.6" text-anchor="middle" fill="#000" font-weight="bold">DMSO</text>
<text transform="translate(581.36,322.1) rotate(-90)" font-size="9.6" text-anchor="middle" fill="#000" font-weight="bold">ATQ</text>
<text transform="translate(592.86,322.1) rotate(-90)" font-size="9.6" text-anchor="middle" fill="#000" font-weight="bold">30μM</text>
<text transform="translate(620.66,323.7) rotate(-90)" font-size="9.6" text-anchor="middle" fill="#000" font-weight="bold">Carbo</text>
<text transform="translate(632.46,323.7) rotate(-90)" font-size="9.6" text-anchor="middle" fill="#000" font-weight="bold">10μM</text>
<text transform="translate(660.46,337.6) rotate(-90)" font-size="9.6" text-anchor="middle" fill="#000" font-weight="bold">Carbo 10μM</text>
<text transform="translate(672.66,337.6) rotate(-90)" font-size="9.6" text-anchor="middle" fill="#000" font-weight="bold">+ ATQ 30μM</text>
<line x1="611.4" y1="223.2" x2="633.7" y2="223.2" stroke="#999" stroke-width="1.1"/>
<text x="622.8" y="224.3" font-size="8" text-anchor="middle" fill="#222">*</text>
<line x1="652.2" y1="225.8" x2="674.5" y2="225.8" stroke="#999" stroke-width="1.1"/>
<text x="663.1" y="227" font-size="8" text-anchor="middle" fill="#222">***</text>
<text transform="translate(500.6,260.7) rotate(-90)" font-size="10" text-anchor="middle" style="stroke-width:0.45px">Surviving Fraction (%)</text>
<line x1="525.2" y1="370.7" x2="525.2" y2="462.3" stroke="#000" stroke-width="2.2"/>
<line x1="524.2" y1="461.3" x2="684" y2="461.3" stroke="#000" stroke-width="2.2"/>
<line x1="521.2" y1="461.3" x2="525.2" y2="461.3" stroke="#000" stroke-width="1.6"/>
<line x1="522.9" y1="449.32" x2="525.2" y2="449.32" stroke="#000" stroke-width="1"/>
<line x1="522.9" y1="442.31" x2="525.2" y2="442.31" stroke="#000" stroke-width="1"/>
<line x1="522.9" y1="437.34" x2="525.2" y2="437.34" stroke="#000" stroke-width="1"/>
<line x1="522.9" y1="433.48" x2="525.2" y2="433.48" stroke="#000" stroke-width="1"/>
<line x1="522.9" y1="430.33" x2="525.2" y2="430.33" stroke="#000" stroke-width="1"/>
<line x1="522.9" y1="427.67" x2="525.2" y2="427.67" stroke="#000" stroke-width="1"/>
<line x1="522.9" y1="425.36" x2="525.2" y2="425.36" stroke="#000" stroke-width="1"/>
<line x1="522.9" y1="423.32" x2="525.2" y2="423.32" stroke="#000" stroke-width="1"/>
<line x1="521.2" y1="421.5" x2="525.2" y2="421.5" stroke="#000" stroke-width="1.6"/>
<line x1="522.9" y1="409.52" x2="525.2" y2="409.52" stroke="#000" stroke-width="1"/>
<line x1="522.9" y1="402.51" x2="525.2" y2="402.51" stroke="#000" stroke-width="1"/>
<line x1="522.9" y1="397.54" x2="525.2" y2="397.54" stroke="#000" stroke-width="1"/>
<line x1="522.9" y1="393.68" x2="525.2" y2="393.68" stroke="#000" stroke-width="1"/>
<line x1="522.9" y1="390.53" x2="525.2" y2="390.53" stroke="#000" stroke-width="1"/>
<line x1="522.9" y1="387.87" x2="525.2" y2="387.87" stroke="#000" stroke-width="1"/>
<line x1="522.9" y1="385.56" x2="525.2" y2="385.56" stroke="#000" stroke-width="1"/>
<line x1="522.9" y1="383.52" x2="525.2" y2="383.52" stroke="#000" stroke-width="1"/>
<line x1="521.2" y1="381.7" x2="525.2" y2="381.7" stroke="#000" stroke-width="1.6"/>
<line x1="521.2" y1="381.7" x2="525.2" y2="381.7" stroke="#000" stroke-width="1.6"/>
<text x="520.7" y="464.6" font-size="9.2" text-anchor="end" fill="#000">1</text>
<text x="520.7" y="424.8" font-size="9.2" text-anchor="end" fill="#000">10</text>
<text x="520.7" y="385" font-size="9.2" text-anchor="end" fill="#000">100</text>
<line x1="534.5" y1="381.5" x2="534.5" y2="378.5" stroke="#111" stroke-width="1.4"/>
<line x1="531.3" y1="378.5" x2="537.7" y2="378.5" stroke="#111" stroke-width="1.6"/>
<rect x="529.4" y="382.3" width="10.2" height="79" fill="#ffffff" stroke="#000" stroke-width="1.7"/>
<line x1="546" y1="381.5" x2="546" y2="380.6" stroke="#111" stroke-width="1.4"/>
<line x1="542.8" y1="380.6" x2="549.2" y2="380.6" stroke="#111" stroke-width="1.6"/>
<rect x="540.9" y="382.3" width="10.2" height="79" fill="#116cf0" stroke="#000" stroke-width="1.7"/>
<line x1="557.5" y1="382" x2="557.5" y2="380.6" stroke="#111" stroke-width="1.4"/>
<line x1="554.3" y1="380.6" x2="560.7" y2="380.6" stroke="#111" stroke-width="1.6"/>
<rect x="552.4" y="382.8" width="10.2" height="78.5" fill="url(#hb)" stroke="#000" stroke-width="1.7"/>
<line x1="573.7" y1="381.2" x2="573.7" y2="380.2" stroke="#111" stroke-width="1.4"/>
<line x1="570.5" y1="380.2" x2="576.9" y2="380.2" stroke="#111" stroke-width="1.6"/>
<rect x="568.6" y="382" width="10.2" height="79.3" fill="#ffffff" stroke="#000" stroke-width="1.7"/>
<line x1="585.2" y1="380" x2="585.2" y2="378.2" stroke="#111" stroke-width="1.4"/>
<line x1="582" y1="378.2" x2="588.4" y2="378.2" stroke="#111" stroke-width="1.6"/>
<rect x="580.1" y="380.8" width="10.2" height="80.5" fill="#116cf0" stroke="#000" stroke-width="1.7"/>
<line x1="596.7" y1="384.3" x2="596.7" y2="382.4" stroke="#111" stroke-width="1.4"/>
<line x1="593.5" y1="382.4" x2="599.9" y2="382.4" stroke="#111" stroke-width="1.6"/>
<rect x="591.6" y="385.1" width="10.2" height="76.2" fill="url(#hb)" stroke="#000" stroke-width="1.7"/>
<line x1="613.1" y1="420.6" x2="613.1" y2="418.8" stroke="#111" stroke-width="1.4"/>
<line x1="609.9" y1="418.8" x2="616.3" y2="418.8" stroke="#111" stroke-width="1.6"/>
<rect x="608" y="421.4" width="10.2" height="39.9" fill="#ffffff" stroke="#000" stroke-width="1.7"/>
<line x1="624.6" y1="391.2" x2="624.6" y2="387.8" stroke="#111" stroke-width="1.4"/>
<line x1="621.4" y1="387.8" x2="627.8" y2="387.8" stroke="#111" stroke-width="1.6"/>
<rect x="619.5" y="392" width="10.2" height="69.3" fill="#116cf0" stroke="#000" stroke-width="1.7"/>
<line x1="636.1" y1="382.4" x2="636.1" y2="381.2" stroke="#111" stroke-width="1.4"/>
<line x1="632.9" y1="381.2" x2="639.3" y2="381.2" stroke="#111" stroke-width="1.6"/>
<rect x="631" y="383.2" width="10.2" height="78.1" fill="url(#hb)" stroke="#000" stroke-width="1.7"/>
<line x1="653.2" y1="444.2" x2="653.2" y2="441.2" stroke="#111" stroke-width="1.4"/>
<line x1="650" y1="441.2" x2="656.4" y2="441.2" stroke="#111" stroke-width="1.6"/>
<rect x="648.1" y="445" width="10.2" height="16.3" fill="#ffffff" stroke="#000" stroke-width="1.7"/>
<line x1="664.7" y1="398.3" x2="664.7" y2="394.3" stroke="#111" stroke-width="1.4"/>
<line x1="661.5" y1="394.3" x2="667.9" y2="394.3" stroke="#111" stroke-width="1.6"/>
<rect x="659.6" y="399.1" width="10.2" height="62.2" fill="#116cf0" stroke="#000" stroke-width="1.7"/>
<line x1="676.2" y1="387" x2="676.2" y2="385.2" stroke="#111" stroke-width="1.4"/>
<line x1="673" y1="385.2" x2="679.4" y2="385.2" stroke="#111" stroke-width="1.6"/>
<rect x="671.1" y="387.8" width="10.2" height="73.5" fill="url(#hb)" stroke="#000" stroke-width="1.7"/>
<rect x="551.2" y="352.9" width="9" height="4.5" fill="#ffffff" stroke="#000" stroke-width="1.3"/>
<rect x="551.2" y="361.6" width="9" height="4.4" fill="#116cf0" stroke="#000" stroke-width="1.3"/>
<rect x="551.2" y="370" width="9" height="4.1" fill="url(#hb)" stroke="#000" stroke-width="1.3"/>
<text x="566" y="358" font-size="7.6" text-anchor="start" fill="#222" style="stroke-width:0">PBS</text>
<text x="566" y="366.5" font-size="7.6" text-anchor="start" fill="#222" style="stroke-width:0">NAC 2mM</text>
<text x="566" y="374.8" font-size="7.6" text-anchor="start" fill="#222" style="stroke-width:0">NAC 10mM</text>
<text transform="translate(549.16,477.7) rotate(-90)" font-size="9.6" text-anchor="middle" fill="#000" font-weight="bold">DMSO</text>
<text transform="translate(582.76,476.5) rotate(-90)" font-size="9.6" text-anchor="middle" fill="#000" font-weight="bold">ATQ</text>
<text transform="translate(595.86,476.5) rotate(-90)" font-size="9.6" text-anchor="middle" fill="#000" font-weight="bold">30 μM</text>
<text transform="translate(623.36,483) rotate(-90)" font-size="9.6" text-anchor="middle" fill="#000" font-weight="bold">Cisplatin</text>
<text transform="translate(633.76,483) rotate(-90)" font-size="9.6" text-anchor="middle" fill="#000" font-weight="bold">2μM</text>
<text transform="translate(662.06,490.3) rotate(-90)" font-size="9.6" text-anchor="middle" fill="#000" font-weight="bold">Cis 2μM</text>
<text transform="translate(674.66,490.3) rotate(-90)" font-size="9.6" text-anchor="middle" fill="#000" font-weight="bold">+ ATQ 30μM</text>
<line x1="613.2" y1="377.7" x2="635.1" y2="377.7" stroke="#999" stroke-width="1.1"/>
<text x="625.4" y="379" font-size="8" text-anchor="middle" fill="#222">**</text>
<line x1="652.2" y1="380.8" x2="674.5" y2="380.8" stroke="#999" stroke-width="1.1"/>
<text x="663" y="382.3" font-size="8" text-anchor="middle" fill="#222">***</text>
<text transform="translate(502,415) rotate(-90)" font-size="10" text-anchor="middle" style="stroke-width:0.45px">Surviving Fraction (%)</text>
</svg>
</body></html>
